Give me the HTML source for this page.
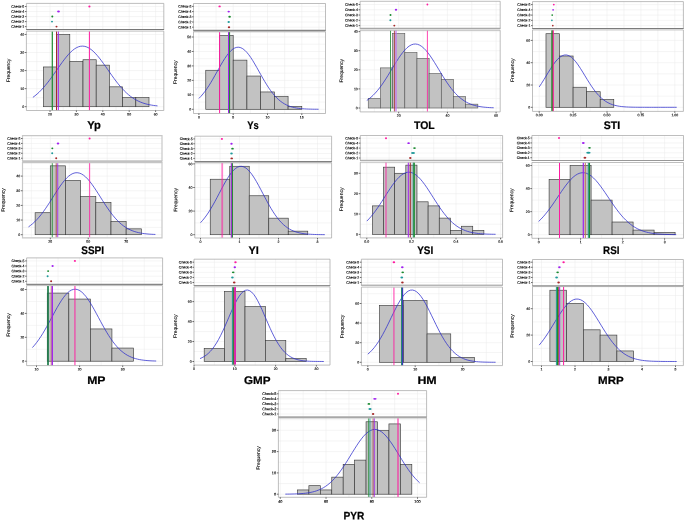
<!DOCTYPE html>
<html><head><meta charset="utf-8"><title>Histograms</title>
<style>html,body{margin:0;padding:0;background:#fff;}body{width:685px;height:521px;overflow:hidden;font-family:"Liberation Sans",sans-serif;}</style>
</head><body>
<svg width="685" height="521" viewBox="0 0 685 521" style="display:block;font-family:'Liberation Sans',sans-serif">
<defs><filter id="gs" x="0" y="0" width="685" height="521" filterUnits="userSpaceOnUse" color-interpolation-filters="sRGB"><feColorMatrix type="saturate" values="0"/></filter></defs>
<rect width="685" height="521" fill="#fff"/>
<g id="Yp">
<path d="M36.80 3.40V29.50M36.80 31.10V110.50M50.00 3.40V29.50M50.00 31.10V110.50M63.20 3.40V29.50M63.20 31.10V110.50M76.40 3.40V29.50M76.40 31.10V110.50M89.60 3.40V29.50M89.60 31.10V110.50M102.80 3.40V29.50M102.80 31.10V110.50M116.00 3.40V29.50M116.00 31.10V110.50M129.20 3.40V29.50M129.20 31.10V110.50M142.40 3.40V29.50M142.40 31.10V110.50M155.60 3.40V29.50M155.60 31.10V110.50M26.40 106.70H163.80M26.40 97.67H163.80M26.40 88.64H163.80M26.40 79.61H163.80M26.40 70.58H163.80M26.40 61.55H163.80M26.40 52.52H163.80M26.40 43.49H163.80M26.40 34.46H163.80M26.40 6.50H163.80M26.40 11.53H163.80M26.40 16.56H163.80M26.40 21.59H163.80M26.40 26.62H163.80" stroke="#ebebeb" stroke-width="0.5" fill="none"/>
<g fill="#c2c2c2" stroke="#3a3a3a" stroke-width="0.65"><rect x="43.40" y="66.97" width="13.20" height="39.73"/><rect x="56.60" y="34.46" width="13.20" height="72.24"/><rect x="69.80" y="61.55" width="13.20" height="45.15"/><rect x="83.00" y="59.74" width="13.20" height="46.96"/><rect x="96.20" y="65.16" width="13.20" height="41.54"/><rect x="109.40" y="86.83" width="13.20" height="19.87"/><rect x="122.60" y="97.67" width="13.20" height="9.03"/><rect x="135.80" y="97.67" width="13.20" height="9.03"/></g>
<polyline points="32.90,97.35 34.98,95.80 37.05,94.08 39.13,92.18 41.21,90.10 43.28,87.84 45.36,85.42 47.44,82.85 49.51,80.15 51.59,77.33 53.67,74.42 55.74,71.46 57.82,68.48 59.90,65.52 61.97,62.62 64.05,59.83 66.13,57.19 68.20,54.74 70.28,52.52 72.36,50.59 74.43,48.96 76.51,47.68 78.59,46.77 80.66,46.24 82.74,46.11 84.82,46.37 86.89,47.03 88.97,48.06 91.05,49.46 93.12,51.19 95.20,53.22 97.28,55.52 99.35,58.03 101.43,60.73 103.51,63.56 105.58,66.48 107.66,69.46 109.74,72.43 111.81,75.38 113.89,78.26 115.97,81.05 118.04,83.71 120.12,86.23 122.20,88.60 124.27,90.80 126.35,92.82 128.43,94.66 130.50,96.33 132.58,97.83 134.66,99.15 136.73,100.33 138.81,101.35 140.89,102.24 142.96,103.01 145.04,103.66 147.12,104.22 149.19,104.69 151.27,105.07 153.35,105.40 155.42,105.66 157.50,105.88" fill="none" stroke="#2c2ccc" stroke-width="0.75"/>
<line x1="52.30" x2="52.30" y1="31.40" y2="110.20" stroke="#1a8a2e" stroke-width="1.2" opacity="1"/>
<line x1="56.50" x2="56.50" y1="31.40" y2="110.20" stroke="#a52a2a" stroke-width="1.0" opacity="1"/>
<line x1="58.30" x2="58.30" y1="31.40" y2="110.20" stroke="#a020f0" stroke-width="1.0" opacity="1"/>
<line x1="89.40" x2="89.40" y1="31.40" y2="110.20" stroke="#ff1aa0" stroke-width="1.0" opacity="1"/>
<path d="M26.40 29.50V3.40H163.80V29.50M26.40 31.10H163.80V110.50H26.40Z" fill="none" stroke="#a2a2a2" stroke-width="0.7"/>
<line x1="26.10" x2="164.10" y1="29.50" y2="29.50" stroke="#787878" stroke-width="1.0"/>
<ellipse cx="89.40" cy="6.50" rx="1.1" ry="0.95" fill="#ff1aa0"/>
<line x1="24.90" x2="26.40" y1="6.50" y2="6.50" stroke="#222" stroke-width="0.65"/>
<ellipse cx="58.50" cy="11.53" rx="1.4" ry="0.95" fill="#a020f0"/>
<line x1="24.90" x2="26.40" y1="11.53" y2="11.53" stroke="#222" stroke-width="0.65"/>
<ellipse cx="52.30" cy="16.56" rx="1" ry="0.95" fill="#1a8a2e"/>
<line x1="24.90" x2="26.40" y1="16.56" y2="16.56" stroke="#222" stroke-width="0.65"/>
<ellipse cx="52.00" cy="21.59" rx="1" ry="0.95" fill="#1f9a9a"/>
<line x1="24.90" x2="26.40" y1="21.59" y2="21.59" stroke="#222" stroke-width="0.65"/>
<ellipse cx="56.50" cy="26.62" rx="1" ry="0.95" fill="#a52a2a"/>
<line x1="24.90" x2="26.40" y1="26.62" y2="26.62" stroke="#222" stroke-width="0.65"/>
<line x1="24.80" x2="26.40" y1="106.70" y2="106.70" stroke="#222" stroke-width="0.65"/>
<line x1="24.80" x2="26.40" y1="88.64" y2="88.64" stroke="#222" stroke-width="0.65"/>
<line x1="24.80" x2="26.40" y1="70.58" y2="70.58" stroke="#222" stroke-width="0.65"/>
<line x1="24.80" x2="26.40" y1="52.52" y2="52.52" stroke="#222" stroke-width="0.65"/>
<line x1="24.80" x2="26.40" y1="34.46" y2="34.46" stroke="#222" stroke-width="0.65"/>
<line x1="50.00" x2="50.00" y1="110.50" y2="112.00" stroke="#222" stroke-width="0.65"/>
<line x1="76.40" x2="76.40" y1="110.50" y2="112.00" stroke="#222" stroke-width="0.65"/>
<line x1="102.80" x2="102.80" y1="110.50" y2="112.00" stroke="#222" stroke-width="0.65"/>
<line x1="129.20" x2="129.20" y1="110.50" y2="112.00" stroke="#222" stroke-width="0.65"/>
<line x1="155.60" x2="155.60" y1="110.50" y2="112.00" stroke="#222" stroke-width="0.65"/>
</g>
<g id="Ys">
<path d="M198.90 3.50V30.50M198.90 31.80V113.50M216.05 3.50V30.50M216.05 31.80V113.50M233.20 3.50V30.50M233.20 31.80V113.50M250.35 3.50V30.50M250.35 31.80V113.50M267.50 3.50V30.50M267.50 31.80V113.50M284.65 3.50V30.50M284.65 31.80V113.50M301.80 3.50V30.50M301.80 31.80V113.50M318.95 3.50V30.50M318.95 31.80V113.50M193.50 109.30H325.50M193.50 102.07H325.50M193.50 94.84H325.50M193.50 87.61H325.50M193.50 80.38H325.50M193.50 73.15H325.50M193.50 65.92H325.50M193.50 58.69H325.50M193.50 51.46H325.50M193.50 44.23H325.50M193.50 37.00H325.50M193.50 6.40H325.50M193.50 11.60H325.50M193.50 16.80H325.50M193.50 22.00H325.50M193.50 27.20H325.50" stroke="#ebebeb" stroke-width="0.5" fill="none"/>
<g fill="#c2c2c2" stroke="#3a3a3a" stroke-width="0.65"><rect x="205.76" y="70.26" width="13.72" height="39.04"/><rect x="219.48" y="35.55" width="13.72" height="73.75"/><rect x="233.20" y="60.14" width="13.72" height="49.16"/><rect x="246.92" y="76.04" width="13.72" height="33.26"/><rect x="260.64" y="91.95" width="13.72" height="17.35"/><rect x="274.36" y="96.29" width="13.72" height="13.01"/><rect x="288.08" y="106.41" width="13.72" height="2.89"/></g>
<polyline points="198.90,98.42 200.90,96.37 202.89,94.07 204.89,91.52 206.88,88.73 208.88,85.72 210.87,82.51 212.87,79.13 214.86,75.64 216.86,72.07 218.85,68.50 220.84,64.99 222.84,61.61 224.84,58.43 226.83,55.53 228.83,52.97 230.82,50.82 232.81,49.14 234.81,47.96 236.81,47.32 238.80,47.23 240.80,47.71 242.79,48.73 244.79,50.27 246.78,52.28 248.78,54.73 250.77,57.53 252.77,60.64 254.76,63.97 256.75,67.45 258.75,71.01 260.75,74.58 262.74,78.10 264.74,81.52 266.73,84.78 268.73,87.86 270.72,90.72 272.72,93.34 274.71,95.71 276.71,97.84 278.70,99.72 280.70,101.36 282.69,102.78 284.69,104.00 286.68,105.02 288.68,105.88 290.67,106.59 292.67,107.18 294.66,107.65 296.66,108.03 298.65,108.33 300.65,108.56 302.64,108.75 304.64,108.89 306.63,109.00 308.62,109.08 310.62,109.14 312.62,109.19 314.61,109.22 316.61,109.24 318.60,109.26" fill="none" stroke="#2c2ccc" stroke-width="0.75"/>
<line x1="219.60" x2="219.60" y1="32.10" y2="113.20" stroke="#ff1aa0" stroke-width="1.0" opacity="1"/>
<line x1="229.00" x2="229.00" y1="32.10" y2="113.20" stroke="#a52a2a" stroke-width="0.8" opacity="1"/>
<line x1="228.50" x2="228.50" y1="32.10" y2="113.20" stroke="#a020f0" stroke-width="1.0" opacity="1"/>
<line x1="229.60" x2="229.60" y1="32.10" y2="113.20" stroke="#1a8a2e" stroke-width="1.0" opacity="1"/>
<path d="M193.50 30.50V3.50H325.50V30.50M193.50 31.80H325.50V113.50H193.50Z" fill="none" stroke="#a2a2a2" stroke-width="0.7"/>
<line x1="193.20" x2="325.80" y1="30.50" y2="30.50" stroke="#868686" stroke-width="1.3"/>
<ellipse cx="219.60" cy="6.40" rx="1.2" ry="0.95" fill="#ff1aa0"/>
<line x1="192.00" x2="193.50" y1="6.40" y2="6.40" stroke="#222" stroke-width="0.65"/>
<ellipse cx="228.70" cy="11.60" rx="1.2" ry="0.95" fill="#a020f0"/>
<line x1="192.00" x2="193.50" y1="11.60" y2="11.60" stroke="#222" stroke-width="0.65"/>
<ellipse cx="229.60" cy="16.80" rx="1.3" ry="0.95" fill="#1a8a2e"/>
<line x1="192.00" x2="193.50" y1="16.80" y2="16.80" stroke="#222" stroke-width="0.65"/>
<ellipse cx="228.70" cy="22.00" rx="1.2" ry="0.95" fill="#1f9a9a"/>
<line x1="192.00" x2="193.50" y1="22.00" y2="22.00" stroke="#222" stroke-width="0.65"/>
<ellipse cx="229.00" cy="27.20" rx="1.2" ry="0.95" fill="#a52a2a"/>
<line x1="192.00" x2="193.50" y1="27.20" y2="27.20" stroke="#222" stroke-width="0.65"/>
<line x1="191.90" x2="193.50" y1="109.30" y2="109.30" stroke="#222" stroke-width="0.65"/>
<line x1="191.90" x2="193.50" y1="94.84" y2="94.84" stroke="#222" stroke-width="0.65"/>
<line x1="191.90" x2="193.50" y1="80.38" y2="80.38" stroke="#222" stroke-width="0.65"/>
<line x1="191.90" x2="193.50" y1="65.92" y2="65.92" stroke="#222" stroke-width="0.65"/>
<line x1="191.90" x2="193.50" y1="51.46" y2="51.46" stroke="#222" stroke-width="0.65"/>
<line x1="191.90" x2="193.50" y1="37.00" y2="37.00" stroke="#222" stroke-width="0.65"/>
<line x1="198.90" x2="198.90" y1="113.50" y2="115.00" stroke="#222" stroke-width="0.65"/>
<line x1="233.20" x2="233.20" y1="113.50" y2="115.00" stroke="#222" stroke-width="0.65"/>
<line x1="267.50" x2="267.50" y1="113.50" y2="115.00" stroke="#222" stroke-width="0.65"/>
<line x1="301.80" x2="301.80" y1="113.50" y2="115.00" stroke="#222" stroke-width="0.65"/>
</g>
<g id="TOL">
<path d="M374.35 1.30V28.60M374.35 30.30V111.90M398.70 1.30V28.60M398.70 30.30V111.90M423.05 1.30V28.60M423.05 30.30V111.90M447.40 1.30V28.60M447.40 30.30V111.90M471.75 1.30V28.60M471.75 30.30V111.90M496.10 1.30V28.60M496.10 30.30V111.90M360.10 108.00H500.20M360.10 98.45H500.20M360.10 88.90H500.20M360.10 79.35H500.20M360.10 69.80H500.20M360.10 60.25H500.20M360.10 50.70H500.20M360.10 41.15H500.20M360.10 31.60H500.20M360.10 4.50H500.20M360.10 9.77H500.20M360.10 15.04H500.20M360.10 20.31H500.20M360.10 25.58H500.20" stroke="#ebebeb" stroke-width="0.5" fill="none"/>
<g fill="#c2c2c2" stroke="#5c5c5c" stroke-width="0.65"><rect x="368.26" y="98.45" width="12.18" height="9.55"/><rect x="380.44" y="67.89" width="12.18" height="40.11"/><rect x="392.61" y="33.51" width="12.17" height="74.49"/><rect x="404.79" y="52.61" width="12.18" height="55.39"/><rect x="416.96" y="58.34" width="12.18" height="49.66"/><rect x="429.14" y="73.62" width="12.18" height="34.38"/><rect x="441.31" y="79.35" width="12.18" height="28.65"/><rect x="453.49" y="96.54" width="12.18" height="11.46"/><rect x="465.66" y="104.18" width="12.17" height="3.82"/></g>
<polyline points="366.80,100.46 368.92,98.95 371.03,97.22 373.14,95.27 375.26,93.09 377.38,90.67 379.49,88.03 381.61,85.17 383.72,82.11 385.84,78.88 387.95,75.51 390.06,72.06 392.18,68.55 394.30,65.06 396.41,61.64 398.52,58.35 400.64,55.26 402.75,52.44 404.87,49.94 406.99,47.82 409.10,46.14 411.22,44.92 413.33,44.20 415.44,44.00 417.56,44.32 419.68,45.16 421.79,46.49 423.90,48.28 426.02,50.49 428.13,53.07 430.25,55.96 432.37,59.10 434.48,62.42 436.60,65.86 438.71,69.36 440.82,72.86 442.94,76.30 445.06,79.64 447.17,82.83 449.28,85.85 451.40,88.66 453.51,91.25 455.63,93.61 457.75,95.74 459.86,97.64 461.98,99.32 464.09,100.78 466.20,102.05 468.32,103.13 470.44,104.05 472.55,104.82 474.66,105.47 476.78,105.99 478.89,106.43 481.01,106.77 483.12,107.05 485.24,107.27 487.36,107.45 489.47,107.58 491.58,107.69 493.70,107.77" fill="none" stroke="#2c2ccc" stroke-width="0.75"/>
<line x1="390.50" x2="390.50" y1="30.60" y2="111.60" stroke="#1a8a2e" stroke-width="1.0" opacity="0.8"/>
<line x1="394.40" x2="394.40" y1="30.60" y2="111.60" stroke="#a52a2a" stroke-width="1.0" opacity="0.8"/>
<line x1="396.00" x2="396.00" y1="30.60" y2="111.60" stroke="#c070f0" stroke-width="1.5" opacity="0.8"/>
<line x1="427.40" x2="427.40" y1="30.60" y2="111.60" stroke="#ff1aa0" stroke-width="1.0" opacity="0.8"/>
<path d="M360.10 28.60V1.30H500.20V28.60M360.10 30.30H500.20V111.90H360.10Z" fill="none" stroke="#a2a2a2" stroke-width="0.7"/>
<line x1="359.80" x2="500.50" y1="28.60" y2="28.60" stroke="#a8a8a8" stroke-width="1.5"/>
<ellipse cx="427.40" cy="4.50" rx="0.9" ry="0.9" fill="#ff1aa0"/>
<line x1="358.60" x2="360.10" y1="4.50" y2="4.50" stroke="#222" stroke-width="0.65"/>
<ellipse cx="396.00" cy="9.77" rx="1.2" ry="0.95" fill="#a020f0"/>
<line x1="358.60" x2="360.10" y1="9.77" y2="9.77" stroke="#222" stroke-width="0.65"/>
<ellipse cx="390.50" cy="15.04" rx="1" ry="0.95" fill="#1a8a2e"/>
<line x1="358.60" x2="360.10" y1="15.04" y2="15.04" stroke="#222" stroke-width="0.65"/>
<ellipse cx="390.40" cy="20.31" rx="1" ry="0.95" fill="#1f9a9a"/>
<line x1="358.60" x2="360.10" y1="20.31" y2="20.31" stroke="#222" stroke-width="0.65"/>
<ellipse cx="394.30" cy="25.58" rx="1" ry="0.95" fill="#a52a2a"/>
<line x1="358.60" x2="360.10" y1="25.58" y2="25.58" stroke="#222" stroke-width="0.65"/>
<line x1="358.50" x2="360.10" y1="108.00" y2="108.00" stroke="#222" stroke-width="0.65"/>
<line x1="358.50" x2="360.10" y1="88.90" y2="88.90" stroke="#222" stroke-width="0.65"/>
<line x1="358.50" x2="360.10" y1="69.80" y2="69.80" stroke="#222" stroke-width="0.65"/>
<line x1="358.50" x2="360.10" y1="50.70" y2="50.70" stroke="#222" stroke-width="0.65"/>
<line x1="358.50" x2="360.10" y1="31.60" y2="31.60" stroke="#222" stroke-width="0.65"/>
<line x1="398.70" x2="398.70" y1="111.90" y2="113.40" stroke="#222" stroke-width="0.65"/>
<line x1="447.40" x2="447.40" y1="111.90" y2="113.40" stroke="#222" stroke-width="0.65"/>
<line x1="496.10" x2="496.10" y1="111.90" y2="113.40" stroke="#222" stroke-width="0.65"/>
</g>
<g id="STI">
<path d="M539.20 1.60V28.50M539.20 29.90V111.40M556.15 1.60V28.50M556.15 29.90V111.40M573.10 1.60V28.50M573.10 29.90V111.40M590.05 1.60V28.50M590.05 29.90V111.40M607.00 1.60V28.50M607.00 29.90V111.40M623.95 1.60V28.50M623.95 29.90V111.40M640.90 1.60V28.50M640.90 29.90V111.40M657.85 1.60V28.50M657.85 29.90V111.40M674.80 1.60V28.50M674.80 29.90V111.40M532.50 107.30H683.40M532.50 96.15H683.40M532.50 85.00H683.40M532.50 73.85H683.40M532.50 62.70H683.40M532.50 51.55H683.40M532.50 40.40H683.40M532.50 4.60H683.40M532.50 9.85H683.40M532.50 15.10H683.40M532.50 20.35H683.40M532.50 25.60H683.40" stroke="#ebebeb" stroke-width="0.5" fill="none"/>
<g fill="#c2c2c2" stroke="#3a3a3a" stroke-width="0.65"><rect x="545.98" y="33.71" width="13.56" height="73.59"/><rect x="559.54" y="56.01" width="13.56" height="51.29"/><rect x="573.10" y="87.23" width="13.56" height="20.07"/><rect x="586.66" y="91.69" width="13.56" height="15.61"/><rect x="600.22" y="99.50" width="13.56" height="7.80"/></g>
<polyline points="539.20,86.94 541.49,83.48 543.78,79.82 546.08,76.06 548.37,72.27 550.66,68.59 552.95,65.12 555.24,62.00 557.53,59.33 559.83,57.22 562.12,55.76 564.41,55.00 566.70,54.99 568.99,55.71 571.28,57.15 573.58,59.23 575.87,61.88 578.16,64.99 580.45,68.45 582.74,72.12 585.03,75.90 587.33,79.67 589.62,83.34 591.91,86.81 594.20,90.02 596.49,92.94 598.78,95.53 601.08,97.79 603.37,99.73 605.66,101.36 607.95,102.70 610.24,103.79 612.53,104.66 614.83,105.34 617.12,105.87 619.41,106.27 621.70,106.57 623.99,106.79 626.28,106.95 628.58,107.06 630.87,107.14 633.16,107.19 635.45,107.23 637.74,107.25 640.03,107.27 642.33,107.28 644.62,107.29 646.91,107.29 649.20,107.30 651.49,107.30 653.78,107.30 656.08,107.30 658.37,107.30 660.66,107.30 662.95,107.30 665.24,107.30 667.53,107.30 669.83,107.30 672.12,107.30 674.41,107.30 676.70,107.30" fill="none" stroke="#2c2ccc" stroke-width="0.75"/>
<line x1="552.70" x2="552.70" y1="30.20" y2="111.10" stroke="#a52a2a" stroke-width="0.9" opacity="1"/>
<line x1="551.95" x2="551.95" y1="30.20" y2="111.10" stroke="#1a8a2e" stroke-width="1.3" opacity="1"/>
<line x1="553.35" x2="553.35" y1="30.20" y2="111.10" stroke="#ff1aa0" stroke-width="0.95" opacity="1"/>
<path d="M532.50 28.50V1.60H683.40V28.50M532.50 29.90H683.40V111.40H532.50Z" fill="none" stroke="#a2a2a2" stroke-width="0.7"/>
<line x1="532.20" x2="683.70" y1="28.50" y2="28.50" stroke="#7c7c7c" stroke-width="1.0"/>
<ellipse cx="553.80" cy="4.60" rx="0.9" ry="0.9" fill="#ff1aa0"/>
<line x1="531.00" x2="532.50" y1="4.60" y2="4.60" stroke="#222" stroke-width="0.65"/>
<ellipse cx="553.10" cy="9.85" rx="0.85" ry="0.85" fill="#a020f0"/>
<line x1="531.00" x2="532.50" y1="9.85" y2="9.85" stroke="#222" stroke-width="0.65"/>
<ellipse cx="552.20" cy="15.10" rx="0.85" ry="0.85" fill="#1a8a2e"/>
<line x1="531.00" x2="532.50" y1="15.10" y2="15.10" stroke="#222" stroke-width="0.65"/>
<ellipse cx="551.90" cy="20.35" rx="0.85" ry="0.85" fill="#1f9a9a"/>
<line x1="531.00" x2="532.50" y1="20.35" y2="20.35" stroke="#222" stroke-width="0.65"/>
<ellipse cx="552.80" cy="25.60" rx="0.85" ry="0.85" fill="#a52a2a"/>
<line x1="531.00" x2="532.50" y1="25.60" y2="25.60" stroke="#222" stroke-width="0.65"/>
<line x1="530.90" x2="532.50" y1="107.30" y2="107.30" stroke="#222" stroke-width="0.65"/>
<line x1="530.90" x2="532.50" y1="85.00" y2="85.00" stroke="#222" stroke-width="0.65"/>
<line x1="530.90" x2="532.50" y1="62.70" y2="62.70" stroke="#222" stroke-width="0.65"/>
<line x1="530.90" x2="532.50" y1="40.40" y2="40.40" stroke="#222" stroke-width="0.65"/>
<line x1="539.20" x2="539.20" y1="111.40" y2="112.90" stroke="#222" stroke-width="0.65"/>
<line x1="573.10" x2="573.10" y1="111.40" y2="112.90" stroke="#222" stroke-width="0.65"/>
<line x1="607.00" x2="607.00" y1="111.40" y2="112.90" stroke="#222" stroke-width="0.65"/>
<line x1="640.90" x2="640.90" y1="111.40" y2="112.90" stroke="#222" stroke-width="0.65"/>
<line x1="674.80" x2="674.80" y1="111.40" y2="112.90" stroke="#222" stroke-width="0.65"/>
</g>
<g id="SSPI">
<path d="M31.34 135.60V161.30M31.34 162.60V237.80M50.30 135.60V161.30M50.30 162.60V237.80M69.26 135.60V161.30M69.26 162.60V237.80M88.22 135.60V161.30M88.22 162.60V237.80M107.19 135.60V161.30M107.19 162.60V237.80M126.15 135.60V161.30M126.15 162.60V237.80M145.11 135.60V161.30M145.11 162.60V237.80M22.50 234.70H162.00M22.50 227.38H162.00M22.50 220.05H162.00M22.50 212.73H162.00M22.50 205.40H162.00M22.50 198.08H162.00M22.50 190.75H162.00M22.50 183.43H162.00M22.50 176.10H162.00M22.50 168.78H162.00M22.50 138.50H162.00M22.50 143.43H162.00M22.50 148.36H162.00M22.50 153.29H162.00M22.50 158.22H162.00" stroke="#ebebeb" stroke-width="0.5" fill="none"/>
<g fill="#c2c2c2" stroke="#3a3a3a" stroke-width="0.65"><rect x="35.13" y="212.72" width="15.17" height="21.97"/><rect x="50.30" y="165.84" width="15.17" height="68.86"/><rect x="65.47" y="180.49" width="15.17" height="54.21"/><rect x="80.64" y="196.61" width="15.17" height="38.09"/><rect x="95.81" y="202.47" width="15.17" height="32.23"/><rect x="110.98" y="221.51" width="15.17" height="13.19"/><rect x="126.15" y="228.84" width="15.17" height="5.86"/></g>
<polyline points="28.50,226.86 30.62,225.34 32.73,223.61 34.84,221.66 36.96,219.50 39.08,217.12 41.19,214.52 43.30,211.73 45.42,208.75 47.54,205.62 49.65,202.38 51.77,199.05 53.88,195.70 56.00,192.37 58.11,189.12 60.23,186.01 62.34,183.10 64.46,180.45 66.57,178.11 68.69,176.15 70.80,174.59 72.91,173.49 75.03,172.85 77.15,172.71 79.26,173.06 81.38,173.89 83.49,175.19 85.61,176.93 87.72,179.05 89.84,181.53 91.95,184.29 94.06,187.30 96.18,190.47 98.30,193.76 100.41,197.11 102.53,200.46 104.64,203.75 106.76,206.96 108.87,210.02 110.98,212.92 113.10,215.64 115.22,218.15 117.33,220.44 119.44,222.51 121.56,224.36 123.67,226.00 125.79,227.44 127.91,228.69 130.02,229.76 132.13,230.68 134.25,231.45 136.37,232.09 138.48,232.63 140.60,233.06 142.71,233.42 144.82,233.70 146.94,233.93 149.06,234.11 151.17,234.25 153.29,234.37 155.40,234.45" fill="none" stroke="#2c2ccc" stroke-width="0.75"/>
<line x1="52.30" x2="52.30" y1="162.90" y2="237.50" stroke="#1a8a2e" stroke-width="1.1" opacity="0.75"/>
<line x1="56.20" x2="56.20" y1="162.90" y2="237.50" stroke="#a52a2a" stroke-width="1.0" opacity="0.75"/>
<line x1="57.70" x2="57.70" y1="162.90" y2="237.50" stroke="#a020f0" stroke-width="1.1" opacity="0.75"/>
<line x1="89.60" x2="89.60" y1="162.90" y2="237.50" stroke="#ff1aa0" stroke-width="1.1" opacity="0.75"/>
<path d="M22.50 161.30V135.60H162.00V161.30M22.50 162.60H162.00V237.80H22.50Z" fill="none" stroke="#c8c8c8" stroke-width="1.2"/>
<line x1="22.20" x2="162.30" y1="161.30" y2="161.30" stroke="#c2c2c2" stroke-width="2.2"/>
<ellipse cx="89.60" cy="138.50" rx="1" ry="0.95" fill="#ff1aa0"/>
<line x1="21.00" x2="22.50" y1="138.50" y2="138.50" stroke="#222" stroke-width="0.65"/>
<ellipse cx="58.00" cy="143.43" rx="1.3" ry="0.95" fill="#a020f0"/>
<line x1="21.00" x2="22.50" y1="143.43" y2="143.43" stroke="#222" stroke-width="0.65"/>
<ellipse cx="52.30" cy="148.36" rx="1" ry="0.95" fill="#1a8a2e"/>
<line x1="21.00" x2="22.50" y1="148.36" y2="148.36" stroke="#222" stroke-width="0.65"/>
<ellipse cx="52.20" cy="153.29" rx="1" ry="0.95" fill="#1f9a9a"/>
<line x1="21.00" x2="22.50" y1="153.29" y2="153.29" stroke="#222" stroke-width="0.65"/>
<ellipse cx="56.20" cy="158.22" rx="1" ry="0.95" fill="#a52a2a"/>
<line x1="21.00" x2="22.50" y1="158.22" y2="158.22" stroke="#222" stroke-width="0.65"/>
<line x1="20.90" x2="22.50" y1="234.70" y2="234.70" stroke="#222" stroke-width="0.65"/>
<line x1="20.90" x2="22.50" y1="220.05" y2="220.05" stroke="#222" stroke-width="0.65"/>
<line x1="20.90" x2="22.50" y1="205.40" y2="205.40" stroke="#222" stroke-width="0.65"/>
<line x1="20.90" x2="22.50" y1="190.75" y2="190.75" stroke="#222" stroke-width="0.65"/>
<line x1="20.90" x2="22.50" y1="176.10" y2="176.10" stroke="#222" stroke-width="0.65"/>
<line x1="50.30" x2="50.30" y1="237.80" y2="239.30" stroke="#222" stroke-width="0.65"/>
<line x1="88.22" x2="88.22" y1="237.80" y2="239.30" stroke="#222" stroke-width="0.65"/>
<line x1="126.15" x2="126.15" y1="237.80" y2="239.30" stroke="#222" stroke-width="0.65"/>
</g>
<g id="YI">
<path d="M200.50 136.20V161.60M200.50 162.80V238.00M220.00 136.20V161.60M220.00 162.80V238.00M239.50 136.20V161.60M239.50 162.80V238.00M259.00 136.20V161.60M259.00 162.80V238.00M278.50 136.20V161.60M278.50 162.80V238.00M298.00 136.20V161.60M298.00 162.80V238.00M317.50 136.20V161.60M317.50 162.80V238.00M194.80 234.70H331.60M194.80 222.90H331.60M194.80 211.10H331.60M194.80 199.30H331.60M194.80 187.50H331.60M194.80 175.70H331.60M194.80 163.90H331.60M194.80 138.90H331.60M194.80 143.78H331.60M194.80 148.66H331.60M194.80 153.54H331.60M194.80 158.42H331.60" stroke="#ebebeb" stroke-width="0.5" fill="none"/>
<g fill="#c2c2c2" stroke="#3a3a3a" stroke-width="0.65"><rect x="210.25" y="179.24" width="19.50" height="55.46"/><rect x="229.75" y="166.26" width="19.50" height="68.44"/><rect x="249.25" y="195.76" width="19.50" height="38.94"/><rect x="268.75" y="218.18" width="19.50" height="16.52"/><rect x="288.25" y="231.16" width="19.50" height="3.54"/></g>
<polyline points="200.50,222.71 202.57,220.44 204.64,217.89 206.72,215.07 208.79,211.97 210.86,208.63 212.93,205.07 215.00,201.33 217.07,197.46 219.15,193.51 221.22,189.56 223.29,185.68 225.36,181.95 227.43,178.45 229.50,175.26 231.57,172.46 233.65,170.12 235.72,168.30 237.79,167.04 239.86,166.39 241.93,166.36 244.00,166.95 246.08,168.15 248.15,169.91 250.22,172.20 252.29,174.96 254.36,178.11 256.44,181.59 258.51,185.30 260.58,189.17 262.65,193.12 264.72,197.07 266.79,200.95 268.87,204.71 270.94,208.29 273.01,211.65 275.08,214.77 277.15,217.62 279.22,220.20 281.30,222.50 283.37,224.53 285.44,226.30 287.51,227.82 289.58,229.12 291.65,230.21 293.73,231.13 295.80,231.88 297.87,232.49 299.94,232.99 302.01,233.39 304.08,233.70 306.15,233.95 308.23,234.14 310.30,234.28 312.37,234.39 314.44,234.48 316.51,234.54 318.59,234.59 320.66,234.62 322.73,234.64 324.80,234.66" fill="none" stroke="#2c2ccc" stroke-width="0.75"/>
<line x1="222.20" x2="222.20" y1="163.10" y2="237.70" stroke="rgba(255,26,160,0.55)" stroke-width="1.8" opacity="1"/>
<line x1="231.90" x2="231.90" y1="163.10" y2="237.70" stroke="#a52a2a" stroke-width="0.8" opacity="1"/>
<line x1="231.30" x2="231.30" y1="163.10" y2="237.70" stroke="#a020f0" stroke-width="1.0" opacity="1"/>
<line x1="232.40" x2="232.40" y1="163.10" y2="237.70" stroke="#1a8a2e" stroke-width="1.0" opacity="1"/>
<path d="M194.80 161.60V136.20H331.60V161.60M194.80 162.80H331.60V238.00H194.80Z" fill="none" stroke="#a2a2a2" stroke-width="0.7"/>
<line x1="194.50" x2="331.90" y1="161.60" y2="161.60" stroke="#808080" stroke-width="1.4"/>
<ellipse cx="221.90" cy="138.90" rx="1.1" ry="0.95" fill="#ff1aa0"/>
<line x1="193.30" x2="194.80" y1="138.90" y2="138.90" stroke="#222" stroke-width="0.65"/>
<ellipse cx="231.50" cy="143.78" rx="1.2" ry="0.95" fill="#a020f0"/>
<line x1="193.30" x2="194.80" y1="143.78" y2="143.78" stroke="#222" stroke-width="0.65"/>
<ellipse cx="232.50" cy="148.66" rx="1.3" ry="0.95" fill="#1a8a2e"/>
<line x1="193.30" x2="194.80" y1="148.66" y2="148.66" stroke="#222" stroke-width="0.65"/>
<ellipse cx="231.50" cy="153.54" rx="1.3" ry="0.95" fill="#1f9a9a"/>
<line x1="193.30" x2="194.80" y1="153.54" y2="153.54" stroke="#222" stroke-width="0.65"/>
<ellipse cx="231.70" cy="158.42" rx="1.3" ry="0.95" fill="#a52a2a"/>
<line x1="193.30" x2="194.80" y1="158.42" y2="158.42" stroke="#222" stroke-width="0.65"/>
<line x1="193.20" x2="194.80" y1="234.70" y2="234.70" stroke="#222" stroke-width="0.65"/>
<line x1="193.20" x2="194.80" y1="211.10" y2="211.10" stroke="#222" stroke-width="0.65"/>
<line x1="193.20" x2="194.80" y1="187.50" y2="187.50" stroke="#222" stroke-width="0.65"/>
<line x1="193.20" x2="194.80" y1="163.90" y2="163.90" stroke="#222" stroke-width="0.65"/>
<line x1="200.50" x2="200.50" y1="238.00" y2="239.50" stroke="#222" stroke-width="0.65"/>
<line x1="239.50" x2="239.50" y1="238.00" y2="239.50" stroke="#222" stroke-width="0.65"/>
<line x1="278.50" x2="278.50" y1="238.00" y2="239.50" stroke="#222" stroke-width="0.65"/>
<line x1="317.50" x2="317.50" y1="238.00" y2="239.50" stroke="#222" stroke-width="0.65"/>
</g>
<g id="YSI">
<path d="M366.80 135.50V160.30M366.80 162.20V237.90M389.10 135.50V160.30M389.10 162.20V237.90M411.40 135.50V160.30M411.40 162.20V237.90M433.70 135.50V160.30M433.70 162.20V237.90M456.00 135.50V160.30M456.00 162.20V237.90M478.30 135.50V160.30M478.30 162.20V237.90M500.60 135.50V160.30M500.60 162.20V237.90M360.30 234.40H502.60M360.30 224.22H502.60M360.30 214.03H502.60M360.30 203.84H502.60M360.30 193.66H502.60M360.30 183.47H502.60M360.30 173.29H502.60M360.30 163.10H502.60M360.30 138.20H502.60M360.30 143.15H502.60M360.30 148.10H502.60M360.30 153.05H502.60M360.30 158.00H502.60" stroke="#ebebeb" stroke-width="0.5" fill="none"/>
<g fill="#c2c2c2" stroke="#3a3a3a" stroke-width="0.65"><rect x="372.38" y="205.88" width="11.15" height="28.52"/><rect x="383.53" y="167.18" width="11.15" height="67.22"/><rect x="394.68" y="173.29" width="11.15" height="61.11"/><rect x="405.83" y="165.14" width="11.15" height="69.26"/><rect x="416.98" y="201.81" width="11.15" height="32.59"/><rect x="428.12" y="205.88" width="11.15" height="28.52"/><rect x="439.28" y="218.10" width="11.15" height="16.30"/><rect x="450.43" y="230.33" width="11.15" height="4.07"/><rect x="461.58" y="226.25" width="11.15" height="8.15"/><rect x="472.73" y="230.33" width="11.15" height="4.07"/></g>
<polyline points="366.80,221.12 368.95,218.91 371.09,216.48 373.24,213.84 375.39,210.99 377.53,207.97 379.68,204.79 381.83,201.50 383.97,198.14 386.12,194.75 388.27,191.40 390.41,188.13 392.56,185.02 394.71,182.13 396.85,179.50 399.00,177.22 401.15,175.31 403.29,173.83 405.44,172.81 407.59,172.28 409.73,172.25 411.88,172.71 414.03,173.67 416.17,175.09 418.32,176.94 420.47,179.19 422.61,181.77 424.76,184.63 426.91,187.72 429.05,190.96 431.20,194.31 433.35,197.69 435.49,201.06 437.64,204.37 439.79,207.56 441.93,210.61 444.08,213.48 446.23,216.15 448.37,218.61 450.52,220.84 452.67,222.86 454.81,224.65 456.96,226.23 459.11,227.61 461.25,228.80 463.40,229.82 465.55,230.69 467.69,231.41 469.84,232.02 471.99,232.51 474.13,232.92 476.28,233.24 478.43,233.51 480.57,233.72 482.72,233.88 484.87,234.01 487.01,234.11 489.16,234.18 491.31,234.24 493.45,234.28 495.60,234.31" fill="none" stroke="#2c2ccc" stroke-width="0.75"/>
<line x1="386.00" x2="386.00" y1="162.50" y2="237.60" stroke="rgba(255,26,160,0.55)" stroke-width="1.5" opacity="1"/>
<line x1="408.30" x2="408.30" y1="162.50" y2="237.60" stroke="#a020f0" stroke-width="1.0" opacity="1"/>
<line x1="410.30" x2="410.30" y1="162.50" y2="237.60" stroke="#a52a2a" stroke-width="1.0" opacity="1"/>
<line x1="413.20" x2="413.20" y1="162.50" y2="237.60" stroke="#1f9a9a" stroke-width="0.8" opacity="1"/>
<line x1="414.10" x2="414.10" y1="162.50" y2="237.60" stroke="#1a8a2e" stroke-width="1.5" opacity="1"/>
<path d="M360.30 160.30V135.50H502.60V160.30M360.30 162.20H502.60V237.90H360.30Z" fill="none" stroke="#a2a2a2" stroke-width="0.7"/>
<line x1="360.00" x2="502.90" y1="160.30" y2="160.30" stroke="#9c9c9c" stroke-width="1.0"/>
<ellipse cx="386.00" cy="138.20" rx="1.0" ry="0.95" fill="#ff1aa0"/>
<line x1="358.80" x2="360.30" y1="138.20" y2="138.20" stroke="#222" stroke-width="0.65"/>
<ellipse cx="408.60" cy="143.15" rx="1.3" ry="0.95" fill="#a020f0"/>
<line x1="358.80" x2="360.30" y1="143.15" y2="143.15" stroke="#222" stroke-width="0.65"/>
<ellipse cx="414.50" cy="148.10" rx="1.3" ry="0.95" fill="#1a8a2e"/>
<line x1="358.80" x2="360.30" y1="148.10" y2="148.10" stroke="#222" stroke-width="0.65"/>
<ellipse cx="413.00" cy="153.05" rx="2.0" ry="0.95" fill="#1f9a9a"/>
<line x1="358.80" x2="360.30" y1="153.05" y2="153.05" stroke="#222" stroke-width="0.65"/>
<ellipse cx="410.30" cy="158.00" rx="1.2" ry="0.95" fill="#a52a2a"/>
<line x1="358.80" x2="360.30" y1="158.00" y2="158.00" stroke="#222" stroke-width="0.65"/>
<line x1="358.70" x2="360.30" y1="234.40" y2="234.40" stroke="#222" stroke-width="0.65"/>
<line x1="358.70" x2="360.30" y1="214.03" y2="214.03" stroke="#222" stroke-width="0.65"/>
<line x1="358.70" x2="360.30" y1="193.66" y2="193.66" stroke="#222" stroke-width="0.65"/>
<line x1="358.70" x2="360.30" y1="173.29" y2="173.29" stroke="#222" stroke-width="0.65"/>
<line x1="366.80" x2="366.80" y1="237.90" y2="239.40" stroke="#222" stroke-width="0.65"/>
<line x1="411.40" x2="411.40" y1="237.90" y2="239.40" stroke="#222" stroke-width="0.65"/>
<line x1="456.00" x2="456.00" y1="237.90" y2="239.40" stroke="#222" stroke-width="0.65"/>
<line x1="500.60" x2="500.60" y1="237.90" y2="239.40" stroke="#222" stroke-width="0.65"/>
</g>
<g id="RSI">
<path d="M538.60 135.50V160.50M538.60 162.50V238.30M559.60 135.50V160.50M559.60 162.50V238.30M580.60 135.50V160.50M580.60 162.50V238.30M601.60 135.50V160.50M601.60 162.50V238.30M622.60 135.50V160.50M622.60 162.50V238.30M643.60 135.50V160.50M643.60 162.50V238.30M664.60 135.50V160.50M664.60 162.50V238.30M531.90 234.70H683.50M531.90 223.17H683.50M531.90 211.64H683.50M531.90 200.11H683.50M531.90 188.58H683.50M531.90 177.05H683.50M531.90 165.52H683.50M531.90 138.00H683.50M531.90 142.93H683.50M531.90 147.86H683.50M531.90 152.79H683.50M531.90 157.72H683.50" stroke="#ebebeb" stroke-width="0.5" fill="none"/>
<g fill="#c2c2c2" stroke="#3a3a3a" stroke-width="0.65"><rect x="549.10" y="179.36" width="21.00" height="55.34"/><rect x="570.10" y="165.52" width="21.00" height="69.18"/><rect x="591.10" y="200.11" width="21.00" height="34.59"/><rect x="612.10" y="222.02" width="21.00" height="12.68"/><rect x="633.10" y="230.09" width="21.00" height="4.61"/><rect x="654.10" y="232.39" width="21.00" height="2.31"/></g>
<polyline points="538.60,221.48 540.89,219.25 543.19,216.79 545.48,214.11 547.77,211.23 550.07,208.17 552.36,204.95 554.65,201.62 556.95,198.22 559.24,194.80 561.53,191.42 563.83,188.14 566.12,185.03 568.41,182.14 570.71,179.55 573.00,177.30 575.29,175.46 577.59,174.06 579.88,173.14 582.17,172.73 584.47,172.82 586.76,173.42 589.05,174.52 591.35,176.09 593.64,178.08 595.93,180.46 598.23,183.17 600.52,186.15 602.81,189.33 605.11,192.65 607.40,196.05 609.69,199.47 611.99,202.85 614.28,206.15 616.57,209.31 618.87,212.31 621.16,215.12 623.45,217.72 625.75,220.09 628.04,222.24 630.33,224.15 632.63,225.85 634.92,227.34 637.21,228.62 639.51,229.73 641.80,230.66 644.09,231.45 646.39,232.10 648.68,232.65 650.97,233.09 653.27,233.44 655.56,233.73 657.85,233.96 660.15,234.14 662.44,234.27 664.73,234.38 667.03,234.46 669.32,234.53 671.61,234.57 673.91,234.61 676.20,234.63" fill="none" stroke="#2c2ccc" stroke-width="0.75"/>
<line x1="559.50" x2="559.50" y1="162.80" y2="238.00" stroke="#ff1aa0" stroke-width="1.0" opacity="1"/>
<line x1="583.30" x2="583.30" y1="162.80" y2="238.00" stroke="#a020f0" stroke-width="1.2" opacity="1"/>
<line x1="585.30" x2="585.30" y1="162.80" y2="238.00" stroke="#c07058" stroke-width="1.0" opacity="1"/>
<line x1="588.30" x2="588.30" y1="162.80" y2="238.00" stroke="#1f9a9a" stroke-width="1.0" opacity="1"/>
<line x1="589.40" x2="589.40" y1="162.80" y2="238.00" stroke="#1a8a2e" stroke-width="1.3" opacity="1"/>
<path d="M531.90 160.50V135.50H683.50V160.50M531.90 162.50H683.50V238.30H531.90Z" fill="none" stroke="#a2a2a2" stroke-width="0.7"/>
<line x1="531.60" x2="683.80" y1="160.50" y2="160.50" stroke="#8c8c8c" stroke-width="0.9"/>
<ellipse cx="559.00" cy="138.00" rx="1.0" ry="0.95" fill="#ff1aa0"/>
<line x1="530.40" x2="531.90" y1="138.00" y2="138.00" stroke="#222" stroke-width="0.65"/>
<ellipse cx="583.30" cy="142.93" rx="1.4" ry="0.95" fill="#a020f0"/>
<line x1="530.40" x2="531.90" y1="142.93" y2="142.93" stroke="#222" stroke-width="0.65"/>
<ellipse cx="589.50" cy="147.86" rx="1.3" ry="0.95" fill="#1a8a2e"/>
<line x1="530.40" x2="531.90" y1="147.86" y2="147.86" stroke="#222" stroke-width="0.65"/>
<ellipse cx="588.40" cy="152.79" rx="2.2" ry="0.95" fill="#1f9a9a"/>
<line x1="530.40" x2="531.90" y1="152.79" y2="152.79" stroke="#222" stroke-width="0.65"/>
<ellipse cx="584.90" cy="157.72" rx="1.4" ry="0.95" fill="#a52a2a"/>
<line x1="530.40" x2="531.90" y1="157.72" y2="157.72" stroke="#222" stroke-width="0.65"/>
<line x1="530.30" x2="531.90" y1="234.70" y2="234.70" stroke="#222" stroke-width="0.65"/>
<line x1="530.30" x2="531.90" y1="211.64" y2="211.64" stroke="#222" stroke-width="0.65"/>
<line x1="530.30" x2="531.90" y1="188.58" y2="188.58" stroke="#222" stroke-width="0.65"/>
<line x1="530.30" x2="531.90" y1="165.52" y2="165.52" stroke="#222" stroke-width="0.65"/>
<line x1="538.60" x2="538.60" y1="238.30" y2="239.80" stroke="#222" stroke-width="0.65"/>
<line x1="580.60" x2="580.60" y1="238.30" y2="239.80" stroke="#222" stroke-width="0.65"/>
<line x1="622.60" x2="622.60" y1="238.30" y2="239.80" stroke="#222" stroke-width="0.65"/>
<line x1="664.60" x2="664.60" y1="238.30" y2="239.80" stroke="#222" stroke-width="0.65"/>
</g>
<g id="MP">
<path d="M36.50 257.90V284.30M36.50 285.60V365.60M58.05 257.90V284.30M58.05 285.60V365.60M79.60 257.90V284.30M79.60 285.60V365.60M101.15 257.90V284.30M101.15 285.60V365.60M122.70 257.90V284.30M122.70 285.60V365.60M144.25 257.90V284.30M144.25 285.60V365.60M26.60 361.20H162.60M26.60 349.25H162.60M26.60 337.30H162.60M26.60 325.35H162.60M26.60 313.40H162.60M26.60 301.45H162.60M26.60 289.50H162.60M26.60 260.90H162.60M26.60 266.00H162.60M26.60 271.10H162.60M26.60 276.20H162.60M26.60 281.30H162.60" stroke="#ebebeb" stroke-width="0.5" fill="none"/>
<g fill="#c2c2c2" stroke="#3a3a3a" stroke-width="0.65"><rect x="47.27" y="293.08" width="21.55" height="68.12"/><rect x="68.82" y="299.06" width="21.55" height="62.14"/><rect x="90.38" y="328.94" width="21.55" height="32.26"/><rect x="111.92" y="348.06" width="21.55" height="13.14"/></g>
<polyline points="32.40,347.58 34.46,345.26 36.53,342.70 38.59,339.88 40.65,336.83 42.72,333.57 44.78,330.10 46.84,326.47 48.91,322.72 50.97,318.89 53.03,315.04 55.10,311.24 57.16,307.53 59.22,304.00 61.29,300.71 63.35,297.73 65.41,295.11 67.48,292.92 69.54,291.20 71.60,290.00 73.67,289.33 75.73,289.23 77.79,289.68 79.86,290.67 81.92,292.19 83.98,294.21 86.05,296.66 88.11,299.51 90.17,302.69 92.24,306.14 94.30,309.78 96.36,313.55 98.43,317.39 100.49,321.23 102.55,325.02 104.62,328.70 106.68,332.24 108.74,335.59 110.81,338.72 112.87,341.63 114.93,344.29 117.00,346.71 119.06,348.87 121.12,350.79 123.19,352.48 125.25,353.96 127.31,355.23 129.38,356.31 131.44,357.23 133.50,358.00 135.57,358.65 137.63,359.17 139.69,359.61 141.76,359.95 143.82,360.23 145.88,360.46 147.95,360.63 150.01,360.77 152.07,360.88 154.14,360.96 156.20,361.02" fill="none" stroke="#2c2ccc" stroke-width="0.75"/>
<line x1="48.00" x2="48.00" y1="285.90" y2="365.30" stroke="#1a7a48" stroke-width="1.7" opacity="1"/>
<line x1="51.20" x2="51.20" y1="285.90" y2="365.30" stroke="#c07058" stroke-width="0.8" opacity="1"/>
<line x1="52.30" x2="52.30" y1="285.90" y2="365.30" stroke="#a020f0" stroke-width="1.3" opacity="1"/>
<line x1="74.90" x2="74.90" y1="285.90" y2="365.30" stroke="rgba(255,26,160,0.55)" stroke-width="1.7" opacity="1"/>
<path d="M26.60 284.30V257.90H162.60V284.30M26.60 285.60H162.60V365.60H26.60Z" fill="none" stroke="#a2a2a2" stroke-width="0.7"/>
<line x1="26.30" x2="162.90" y1="284.30" y2="284.30" stroke="#868686" stroke-width="1.3"/>
<ellipse cx="74.90" cy="260.90" rx="1.1" ry="0.95" fill="#ff1aa0"/>
<line x1="25.10" x2="26.60" y1="260.90" y2="260.90" stroke="#222" stroke-width="0.65"/>
<ellipse cx="52.60" cy="266.00" rx="1.1" ry="0.95" fill="#a020f0"/>
<line x1="25.10" x2="26.60" y1="266.00" y2="266.00" stroke="#222" stroke-width="0.65"/>
<ellipse cx="48.10" cy="271.10" rx="1" ry="0.95" fill="#1a8a2e"/>
<line x1="25.10" x2="26.60" y1="271.10" y2="271.10" stroke="#222" stroke-width="0.65"/>
<ellipse cx="47.60" cy="276.20" rx="1" ry="0.95" fill="#1f9a9a"/>
<line x1="25.10" x2="26.60" y1="276.20" y2="276.20" stroke="#222" stroke-width="0.65"/>
<ellipse cx="51.10" cy="281.30" rx="1" ry="0.95" fill="#a52a2a"/>
<line x1="25.10" x2="26.60" y1="281.30" y2="281.30" stroke="#222" stroke-width="0.65"/>
<line x1="25.00" x2="26.60" y1="361.20" y2="361.20" stroke="#222" stroke-width="0.65"/>
<line x1="25.00" x2="26.60" y1="337.30" y2="337.30" stroke="#222" stroke-width="0.65"/>
<line x1="25.00" x2="26.60" y1="313.40" y2="313.40" stroke="#222" stroke-width="0.65"/>
<line x1="25.00" x2="26.60" y1="289.50" y2="289.50" stroke="#222" stroke-width="0.65"/>
<line x1="36.50" x2="36.50" y1="365.60" y2="367.10" stroke="#222" stroke-width="0.65"/>
<line x1="79.60" x2="79.60" y1="365.60" y2="367.10" stroke="#222" stroke-width="0.65"/>
<line x1="122.70" x2="122.70" y1="365.60" y2="367.10" stroke="#222" stroke-width="0.65"/>
</g>
<g id="GMP">
<path d="M214.40 259.20V285.50M214.40 286.80V365.10M234.80 259.20V285.50M234.80 286.80V365.10M255.20 259.20V285.50M255.20 286.80V365.10M275.60 259.20V285.50M275.60 286.80V365.10M296.00 259.20V285.50M296.00 286.80V365.10M316.40 259.20V285.50M316.40 286.80V365.10M194.00 361.50H330.00M194.00 351.52H330.00M194.00 341.54H330.00M194.00 331.56H330.00M194.00 321.58H330.00M194.00 311.60H330.00M194.00 301.62H330.00M194.00 291.64H330.00M194.00 262.20H330.00M194.00 267.28H330.00M194.00 272.36H330.00M194.00 277.44H330.00M194.00 282.52H330.00" stroke="#ebebeb" stroke-width="0.5" fill="none"/>
<g fill="#c2c2c2" stroke="#3a3a3a" stroke-width="0.65"><rect x="204.20" y="348.53" width="20.40" height="12.97"/><rect x="224.60" y="291.64" width="20.40" height="69.86"/><rect x="245.00" y="306.61" width="20.40" height="54.89"/><rect x="265.40" y="340.54" width="20.40" height="20.96"/><rect x="285.80" y="358.51" width="20.40" height="2.99"/></g>
<polyline points="200.00,358.60 202.06,357.69 204.13,356.54 206.19,355.13 208.25,353.43 210.32,351.38 212.38,348.98 214.44,346.19 216.51,343.01 218.57,339.45 220.63,335.52 222.70,331.26 224.76,326.74 226.82,322.03 228.89,317.23 230.95,312.45 233.01,307.83 235.08,303.48 237.14,299.55 239.20,296.16 241.27,293.43 243.33,291.45 245.39,290.30 247.46,290.01 249.52,290.60 251.58,292.05 253.65,294.29 255.71,297.26 257.77,300.85 259.84,304.94 261.90,309.40 263.96,314.10 266.03,318.89 268.09,323.68 270.15,328.33 272.22,332.77 274.28,336.92 276.34,340.72 278.41,344.16 280.47,347.20 282.53,349.85 284.60,352.13 286.66,354.05 288.72,355.65 290.79,356.97 292.85,358.03 294.91,358.87 296.98,359.54 299.04,360.05 301.10,360.44 303.17,360.74 305.23,360.96 307.29,361.12 309.36,361.24 311.42,361.32 313.48,361.38 315.55,361.42 317.61,361.45 319.67,361.46 321.74,361.48 323.80,361.49" fill="none" stroke="#2c2ccc" stroke-width="0.75"/>
<line x1="232.40" x2="232.40" y1="287.10" y2="364.80" stroke="#1f9a9a" stroke-width="1.0" opacity="1"/>
<line x1="233.40" x2="233.40" y1="287.10" y2="364.80" stroke="#1a8a2e" stroke-width="1.0" opacity="1"/>
<line x1="234.20" x2="234.20" y1="287.10" y2="364.80" stroke="#a52a2a" stroke-width="0.8" opacity="1"/>
<line x1="235.10" x2="235.10" y1="287.10" y2="364.80" stroke="#e020b0" stroke-width="1.8" opacity="1"/>
<path d="M194.00 285.50V259.20H330.00V285.50M194.00 286.80H330.00V365.10H194.00Z" fill="none" stroke="#a2a2a2" stroke-width="0.7"/>
<line x1="193.70" x2="330.30" y1="285.50" y2="285.50" stroke="#909090" stroke-width="1.2"/>
<ellipse cx="235.50" cy="262.20" rx="1.2" ry="0.95" fill="#ff1aa0"/>
<line x1="192.50" x2="194.00" y1="262.20" y2="262.20" stroke="#222" stroke-width="0.65"/>
<ellipse cx="234.80" cy="267.28" rx="1.2" ry="0.95" fill="#a020f0"/>
<line x1="192.50" x2="194.00" y1="267.28" y2="267.28" stroke="#222" stroke-width="0.65"/>
<ellipse cx="233.20" cy="272.36" rx="1.3" ry="0.95" fill="#1a8a2e"/>
<line x1="192.50" x2="194.00" y1="272.36" y2="272.36" stroke="#222" stroke-width="0.65"/>
<ellipse cx="232.40" cy="277.44" rx="1.3" ry="0.95" fill="#1f9a9a"/>
<line x1="192.50" x2="194.00" y1="277.44" y2="277.44" stroke="#222" stroke-width="0.65"/>
<ellipse cx="234.20" cy="282.52" rx="1.3" ry="0.95" fill="#a52a2a"/>
<line x1="192.50" x2="194.00" y1="282.52" y2="282.52" stroke="#222" stroke-width="0.65"/>
<line x1="192.40" x2="194.00" y1="361.50" y2="361.50" stroke="#222" stroke-width="0.65"/>
<line x1="192.40" x2="194.00" y1="341.54" y2="341.54" stroke="#222" stroke-width="0.65"/>
<line x1="192.40" x2="194.00" y1="321.58" y2="321.58" stroke="#222" stroke-width="0.65"/>
<line x1="192.40" x2="194.00" y1="301.62" y2="301.62" stroke="#222" stroke-width="0.65"/>
<line x1="194.00" x2="194.00" y1="365.10" y2="366.60" stroke="#222" stroke-width="0.65"/>
<line x1="234.80" x2="234.80" y1="365.10" y2="366.60" stroke="#222" stroke-width="0.65"/>
<line x1="275.60" x2="275.60" y1="365.10" y2="366.60" stroke="#222" stroke-width="0.65"/>
<line x1="316.40" x2="316.40" y1="365.10" y2="366.60" stroke="#222" stroke-width="0.65"/>
</g>
<g id="HM">
<path d="M367.80 259.20V285.20M367.80 287.10V365.60M391.50 259.20V285.20M391.50 287.10V365.60M415.20 259.20V285.20M415.20 287.10V365.60M438.90 259.20V285.20M438.90 287.10V365.60M462.60 259.20V285.20M462.60 287.10V365.60M486.30 259.20V285.20M486.30 287.10V365.60M361.40 362.30H502.50M361.40 352.50H502.50M361.40 342.70H502.50M361.40 332.90H502.50M361.40 323.10H502.50M361.40 313.30H502.50M361.40 303.50H502.50M361.40 293.70H502.50M361.40 262.20H502.50M361.40 267.28H502.50M361.40 272.36H502.50M361.40 277.44H502.50M361.40 282.52H502.50" stroke="#ebebeb" stroke-width="0.5" fill="none"/>
<g fill="#c2c2c2" stroke="#3a3a3a" stroke-width="0.65"><rect x="379.65" y="305.46" width="23.70" height="56.84"/><rect x="403.35" y="300.56" width="23.70" height="61.74"/><rect x="427.05" y="333.88" width="23.70" height="28.42"/><rect x="450.75" y="357.40" width="23.70" height="4.90"/></g>
<polyline points="367.80,354.16 369.93,352.30 372.06,350.14 374.19,347.66 376.32,344.85 378.45,341.72 380.58,338.27 382.71,334.53 384.84,330.53 386.97,326.32 389.10,321.97 391.23,317.55 393.36,313.15 395.49,308.87 397.62,304.80 399.75,301.05 401.88,297.71 404.01,294.88 406.14,292.64 408.27,291.06 410.40,290.18 412.53,290.03 414.66,290.62 416.79,291.92 418.92,293.89 421.05,296.49 423.18,299.63 425.31,303.22 427.44,307.17 429.57,311.38 431.70,315.75 433.83,320.17 435.96,324.56 438.09,328.84 440.22,332.93 442.35,336.78 444.48,340.35 446.61,343.61 448.74,346.55 450.87,349.17 453.00,351.45 455.13,353.44 457.26,355.13 459.39,356.56 461.52,357.75 463.65,358.73 465.78,359.53 467.91,360.17 470.04,360.68 472.17,361.08 474.30,361.39 476.43,361.63 478.56,361.81 480.69,361.94 482.82,362.05 484.95,362.12 487.08,362.17 489.21,362.21 491.34,362.24 493.47,362.26 495.60,362.27" fill="none" stroke="#2c2ccc" stroke-width="0.75"/>
<line x1="393.90" x2="393.90" y1="287.40" y2="365.30" stroke="rgba(255,26,160,0.55)" stroke-width="1.6" opacity="1"/>
<line x1="401.50" x2="401.50" y1="287.40" y2="365.30" stroke="#1f9a9a" stroke-width="0.9" opacity="1"/>
<line x1="401.90" x2="401.90" y1="287.40" y2="365.30" stroke="#1a8a2e" stroke-width="0.8" opacity="1"/>
<line x1="402.50" x2="402.50" y1="287.40" y2="365.30" stroke="#3c3cb8" stroke-width="1.3" opacity="1"/>
<path d="M361.40 285.20V259.20H502.50V285.20M361.40 287.10H502.50V365.60H361.40Z" fill="none" stroke="#a2a2a2" stroke-width="0.7"/>
<line x1="361.10" x2="502.80" y1="285.20" y2="285.20" stroke="#969696" stroke-width="1.0"/>
<ellipse cx="393.90" cy="262.20" rx="1.3" ry="0.95" fill="#ff1aa0"/>
<line x1="359.90" x2="361.40" y1="262.20" y2="262.20" stroke="#222" stroke-width="0.65"/>
<ellipse cx="402.30" cy="267.28" rx="1.3" ry="0.95" fill="#a020f0"/>
<line x1="359.90" x2="361.40" y1="267.28" y2="267.28" stroke="#222" stroke-width="0.65"/>
<ellipse cx="402.70" cy="272.36" rx="1.3" ry="0.95" fill="#1a8a2e"/>
<line x1="359.90" x2="361.40" y1="272.36" y2="272.36" stroke="#222" stroke-width="0.65"/>
<ellipse cx="401.80" cy="277.44" rx="1.4" ry="0.95" fill="#1f9a9a"/>
<line x1="359.90" x2="361.40" y1="277.44" y2="277.44" stroke="#222" stroke-width="0.65"/>
<ellipse cx="402.40" cy="282.52" rx="1.3" ry="0.95" fill="#a52a2a"/>
<line x1="359.90" x2="361.40" y1="282.52" y2="282.52" stroke="#222" stroke-width="0.65"/>
<line x1="359.80" x2="361.40" y1="362.30" y2="362.30" stroke="#222" stroke-width="0.65"/>
<line x1="359.80" x2="361.40" y1="342.70" y2="342.70" stroke="#222" stroke-width="0.65"/>
<line x1="359.80" x2="361.40" y1="323.10" y2="323.10" stroke="#222" stroke-width="0.65"/>
<line x1="359.80" x2="361.40" y1="303.50" y2="303.50" stroke="#222" stroke-width="0.65"/>
<line x1="367.80" x2="367.80" y1="365.60" y2="367.10" stroke="#222" stroke-width="0.65"/>
<line x1="415.20" x2="415.20" y1="365.60" y2="367.10" stroke="#222" stroke-width="0.65"/>
<line x1="462.60" x2="462.60" y1="365.60" y2="367.10" stroke="#222" stroke-width="0.65"/>
</g>
<g id="MRP">
<path d="M541.50 259.50V285.80M541.50 286.60V365.60M558.25 259.50V285.80M558.25 286.60V365.60M575.00 259.50V285.80M575.00 286.60V365.60M591.75 259.50V285.80M591.75 286.60V365.60M608.50 259.50V285.80M608.50 286.60V365.60M625.25 259.50V285.80M625.25 286.60V365.60M642.00 259.50V285.80M642.00 286.60V365.60M658.75 259.50V285.80M658.75 286.60V365.60M675.50 259.50V285.80M675.50 286.60V365.60M532.50 361.50H683.40M532.50 348.30H683.40M532.50 335.10H683.40M532.50 321.90H683.40M532.50 308.70H683.40M532.50 295.50H683.40M532.50 262.20H683.40M532.50 267.28H683.40M532.50 272.36H683.40M532.50 277.44H683.40M532.50 282.52H683.40" stroke="#ebebeb" stroke-width="0.5" fill="none"/>
<g fill="#c2c2c2" stroke="#3a3a3a" stroke-width="0.65"><rect x="549.88" y="290.22" width="16.75" height="71.28"/><rect x="566.62" y="303.42" width="16.75" height="58.08"/><rect x="583.38" y="329.82" width="16.75" height="31.68"/><rect x="600.12" y="335.10" width="16.75" height="26.40"/><rect x="616.88" y="350.94" width="16.75" height="10.56"/></g>
<polyline points="539.20,345.12 541.49,342.32 543.78,339.27 546.08,335.99 548.37,332.51 550.66,328.88 552.95,325.15 555.24,321.39 557.53,317.68 559.83,314.09 562.12,310.71 564.41,307.63 566.70,304.91 568.99,302.65 571.28,300.88 573.58,299.68 575.87,299.08 578.16,299.08 580.45,299.69 582.74,300.90 585.03,302.67 587.33,304.94 589.62,307.66 591.91,310.75 594.20,314.13 596.49,317.72 598.78,321.43 601.08,325.19 603.37,328.92 605.66,332.55 607.95,336.03 610.24,339.31 612.53,342.35 614.83,345.14 617.12,347.67 619.41,349.91 621.70,351.89 623.99,353.61 626.28,355.08 628.58,356.33 630.87,357.38 633.16,358.25 635.45,358.96 637.74,359.53 640.03,359.99 642.33,360.35 644.62,360.64 646.91,360.86 649.20,361.03 651.49,361.16 653.78,361.25 656.08,361.32 658.37,361.37 660.66,361.41 662.95,361.44 665.24,361.46 667.53,361.47 669.83,361.48 672.12,361.49 674.41,361.49 676.70,361.49" fill="none" stroke="#2c2ccc" stroke-width="0.75"/>
<line x1="556.40" x2="556.40" y1="286.90" y2="365.30" stroke="#1f9a9a" stroke-width="1.0" opacity="1"/>
<line x1="557.60" x2="557.60" y1="286.90" y2="365.30" stroke="#1a8a2e" stroke-width="1.4" opacity="1"/>
<line x1="558.80" x2="558.80" y1="286.90" y2="365.30" stroke="#a52a2a" stroke-width="0.9" opacity="1"/>
<line x1="559.70" x2="559.70" y1="286.90" y2="365.30" stroke="#a020f0" stroke-width="0.9" opacity="1"/>
<line x1="563.60" x2="563.60" y1="286.90" y2="365.30" stroke="#ff1aa0" stroke-width="1.0" opacity="1"/>
<path d="M532.50 285.80V259.50H683.40V285.80M532.50 286.60H683.40V365.60H532.50Z" fill="none" stroke="#a2a2a2" stroke-width="0.7"/>
<line x1="532.20" x2="683.70" y1="285.80" y2="285.80" stroke="#858585" stroke-width="1.0"/>
<ellipse cx="563.60" cy="262.20" rx="1.2" ry="0.95" fill="#ff1aa0"/>
<line x1="531.00" x2="532.50" y1="262.20" y2="262.20" stroke="#222" stroke-width="0.65"/>
<ellipse cx="559.40" cy="267.28" rx="1.3" ry="0.95" fill="#a020f0"/>
<line x1="531.00" x2="532.50" y1="267.28" y2="267.28" stroke="#222" stroke-width="0.65"/>
<ellipse cx="557.60" cy="272.36" rx="1.3" ry="0.95" fill="#1a8a2e"/>
<line x1="531.00" x2="532.50" y1="272.36" y2="272.36" stroke="#222" stroke-width="0.65"/>
<ellipse cx="556.60" cy="277.44" rx="1.4" ry="0.95" fill="#1f9a9a"/>
<line x1="531.00" x2="532.50" y1="277.44" y2="277.44" stroke="#222" stroke-width="0.65"/>
<ellipse cx="558.60" cy="282.52" rx="1.3" ry="0.95" fill="#a52a2a"/>
<line x1="531.00" x2="532.50" y1="282.52" y2="282.52" stroke="#222" stroke-width="0.65"/>
<line x1="530.90" x2="532.50" y1="361.50" y2="361.50" stroke="#222" stroke-width="0.65"/>
<line x1="530.90" x2="532.50" y1="335.10" y2="335.10" stroke="#222" stroke-width="0.65"/>
<line x1="530.90" x2="532.50" y1="308.70" y2="308.70" stroke="#222" stroke-width="0.65"/>
<line x1="541.50" x2="541.50" y1="365.60" y2="367.10" stroke="#222" stroke-width="0.65"/>
<line x1="575.00" x2="575.00" y1="365.60" y2="367.10" stroke="#222" stroke-width="0.65"/>
<line x1="608.50" x2="608.50" y1="365.60" y2="367.10" stroke="#222" stroke-width="0.65"/>
<line x1="642.00" x2="642.00" y1="365.60" y2="367.10" stroke="#222" stroke-width="0.65"/>
<line x1="675.50" x2="675.50" y1="365.60" y2="367.10" stroke="#222" stroke-width="0.65"/>
</g>
<g id="PYR">
<path d="M280.30 390.60V417.10M280.30 418.00V497.30M303.17 390.60V417.10M303.17 418.00V497.30M326.04 390.60V417.10M326.04 418.00V497.30M348.91 390.60V417.10M348.91 418.00V497.30M371.78 390.60V417.10M371.78 418.00V497.30M394.65 390.60V417.10M394.65 418.00V497.30M417.52 390.60V417.10M417.52 418.00V497.30M278.40 494.20H426.60M278.40 483.55H426.60M278.40 472.90H426.60M278.40 462.25H426.60M278.40 451.60H426.60M278.40 440.95H426.60M278.40 430.30H426.60M278.40 419.65H426.60M278.40 393.80H426.60M278.40 398.85H426.60M278.40 403.90H426.60M278.40 408.95H426.60M278.40 414.00H426.60" stroke="#ebebeb" stroke-width="0.5" fill="none"/>
<g fill="#c2c2c2" stroke="#3a3a3a" stroke-width="0.65"><rect x="297.45" y="489.94" width="11.44" height="4.26"/><rect x="308.89" y="485.68" width="11.44" height="8.52"/><rect x="320.32" y="489.94" width="11.44" height="4.26"/><rect x="331.76" y="477.16" width="11.44" height="17.04"/><rect x="343.19" y="464.38" width="11.44" height="29.82"/><rect x="354.63" y="460.12" width="11.44" height="34.08"/><rect x="366.06" y="421.78" width="11.44" height="72.42"/><rect x="377.50" y="430.30" width="11.44" height="63.90"/><rect x="388.93" y="423.91" width="11.44" height="70.29"/><rect x="400.37" y="464.38" width="11.44" height="29.82"/></g>
<polyline points="285.30,494.14 287.54,494.11 289.78,494.08 292.01,494.03 294.25,493.97 296.49,493.89 298.73,493.78 300.97,493.64 303.21,493.45 305.44,493.22 307.68,492.92 309.92,492.54 312.16,492.07 314.40,491.50 316.64,490.80 318.88,489.95 321.11,488.94 323.35,487.75 325.59,486.35 327.83,484.73 330.07,482.88 332.31,480.79 334.54,478.44 336.78,475.84 339.02,473.00 341.26,469.94 343.50,466.67 345.74,463.23 347.97,459.67 350.21,456.02 352.45,452.36 354.69,448.75 356.93,445.25 359.17,441.93 361.40,438.88 363.64,436.15 365.88,433.82 368.12,431.94 370.36,430.55 372.60,429.70 374.83,429.40 377.07,429.66 379.31,430.48 381.55,431.84 383.79,433.69 386.03,436.00 388.26,438.71 390.50,441.74 392.74,445.04 394.98,448.53 397.22,452.14 399.46,455.81 401.69,459.45 403.93,463.02 406.17,466.47 408.41,469.75 410.65,472.83 412.88,475.68 415.12,478.29 417.36,480.65 419.60,482.76" fill="none" stroke="#2c2ccc" stroke-width="0.75"/>
<line x1="368.60" x2="368.60" y1="418.30" y2="497.00" stroke="#1a8a2e" stroke-width="1.3" opacity="0.65"/>
<line x1="370.00" x2="370.00" y1="418.30" y2="497.00" stroke="#1f9a9a" stroke-width="1.1" opacity="0.65"/>
<line x1="373.10" x2="373.10" y1="418.30" y2="497.00" stroke="#a52a2a" stroke-width="1.0" opacity="0.65"/>
<line x1="374.40" x2="374.40" y1="418.30" y2="497.00" stroke="#a020f0" stroke-width="1.2" opacity="0.65"/>
<line x1="398.00" x2="398.00" y1="418.30" y2="497.00" stroke="#ff1aa0" stroke-width="1.6" opacity="0.65"/>
<path d="M278.40 417.10V390.60H426.60V417.10M278.40 418.00H426.60V497.30H278.40Z" fill="none" stroke="#a2a2a2" stroke-width="0.7"/>
<line x1="278.10" x2="426.90" y1="417.10" y2="417.10" stroke="#a8a8a8" stroke-width="1.6"/>
<ellipse cx="398.00" cy="393.80" rx="1.0" ry="0.95" fill="#ff1aa0"/>
<line x1="276.90" x2="278.40" y1="393.80" y2="393.80" stroke="#222" stroke-width="0.65"/>
<ellipse cx="374.90" cy="398.85" rx="1.7" ry="0.95" fill="#a020f0"/>
<line x1="276.90" x2="278.40" y1="398.85" y2="398.85" stroke="#222" stroke-width="0.65"/>
<ellipse cx="368.90" cy="403.90" rx="1.4" ry="0.95" fill="#1a8a2e"/>
<line x1="276.90" x2="278.40" y1="403.90" y2="403.90" stroke="#222" stroke-width="0.65"/>
<ellipse cx="370.00" cy="408.95" rx="1.6" ry="0.95" fill="#1f9a9a"/>
<line x1="276.90" x2="278.40" y1="408.95" y2="408.95" stroke="#222" stroke-width="0.65"/>
<ellipse cx="373.10" cy="414.00" rx="1.2" ry="0.95" fill="#a52a2a"/>
<line x1="276.90" x2="278.40" y1="414.00" y2="414.00" stroke="#222" stroke-width="0.65"/>
<line x1="276.80" x2="278.40" y1="494.20" y2="494.20" stroke="#222" stroke-width="0.65"/>
<line x1="276.80" x2="278.40" y1="472.90" y2="472.90" stroke="#222" stroke-width="0.65"/>
<line x1="276.80" x2="278.40" y1="451.60" y2="451.60" stroke="#222" stroke-width="0.65"/>
<line x1="276.80" x2="278.40" y1="430.30" y2="430.30" stroke="#222" stroke-width="0.65"/>
<line x1="280.30" x2="280.30" y1="497.30" y2="498.80" stroke="#222" stroke-width="0.65"/>
<line x1="326.04" x2="326.04" y1="497.30" y2="498.80" stroke="#222" stroke-width="0.65"/>
<line x1="371.78" x2="371.78" y1="497.30" y2="498.80" stroke="#222" stroke-width="0.65"/>
<line x1="417.52" x2="417.52" y1="497.30" y2="498.80" stroke="#222" stroke-width="0.65"/>
</g>
<g filter="url(#gs)">
<text transform="translate(24.30 7.75) rotate(0.2)" font-size="3.5" text-anchor="end" fill="#000" stroke="#000" stroke-width="0.13">Check-5</text>
<text transform="translate(24.30 12.78) rotate(0.2)" font-size="3.5" text-anchor="end" fill="#000" stroke="#000" stroke-width="0.13">Check-4</text>
<text transform="translate(24.30 17.81) rotate(0.2)" font-size="3.5" text-anchor="end" fill="#000" stroke="#000" stroke-width="0.13">Check-3</text>
<text transform="translate(24.30 22.84) rotate(0.2)" font-size="3.5" text-anchor="end" fill="#000" stroke="#000" stroke-width="0.13">Check-2</text>
<text transform="translate(24.30 27.87) rotate(0.2)" font-size="3.5" text-anchor="end" fill="#000" stroke="#000" stroke-width="0.13">Check-1</text>
<text transform="translate(24.10 107.95) rotate(0.2)" font-size="3.5" text-anchor="end" fill="#000" stroke="#000" stroke-width="0.13">0</text>
<text transform="translate(24.10 89.89) rotate(0.2)" font-size="3.5" text-anchor="end" fill="#000" stroke="#000" stroke-width="0.13">10</text>
<text transform="translate(24.10 71.83) rotate(0.2)" font-size="3.5" text-anchor="end" fill="#000" stroke="#000" stroke-width="0.13">20</text>
<text transform="translate(24.10 53.77) rotate(0.2)" font-size="3.5" text-anchor="end" fill="#000" stroke="#000" stroke-width="0.13">30</text>
<text transform="translate(24.10 35.71) rotate(0.2)" font-size="3.5" text-anchor="end" fill="#000" stroke="#000" stroke-width="0.13">40</text>
<text transform="translate(50.00 115.40) rotate(0.2)" font-size="3.5" text-anchor="middle" fill="#000" stroke="#000" stroke-width="0.13">20</text>
<text transform="translate(76.40 115.40) rotate(0.2)" font-size="3.5" text-anchor="middle" fill="#000" stroke="#000" stroke-width="0.13">30</text>
<text transform="translate(102.80 115.40) rotate(0.2)" font-size="3.5" text-anchor="middle" fill="#000" stroke="#000" stroke-width="0.13">40</text>
<text transform="translate(129.20 115.40) rotate(0.2)" font-size="3.5" text-anchor="middle" fill="#000" stroke="#000" stroke-width="0.13">50</text>
<text transform="translate(155.60 115.40) rotate(0.2)" font-size="3.5" text-anchor="middle" fill="#000" stroke="#000" stroke-width="0.13">60</text>
<text transform="translate(10.10 70.50) rotate(-89.8)" font-size="5" text-anchor="middle" fill="#000" stroke="#000" stroke-width="0.1">Frequency</text>
<text class="ttl" transform="translate(87.20 128.70) rotate(0.1)" font-size="11" font-weight="bold" textLength="13.60" lengthAdjust="spacingAndGlyphs" fill="#000" stroke="#000" stroke-width="0.22">Yp</text>
<text transform="translate(191.40 7.65) rotate(0.2)" font-size="3.5" text-anchor="end" fill="#000" stroke="#000" stroke-width="0.13">Check-5</text>
<text transform="translate(191.40 12.85) rotate(0.2)" font-size="3.5" text-anchor="end" fill="#000" stroke="#000" stroke-width="0.13">Check-4</text>
<text transform="translate(191.40 18.05) rotate(0.2)" font-size="3.5" text-anchor="end" fill="#000" stroke="#000" stroke-width="0.13">Check-3</text>
<text transform="translate(191.40 23.25) rotate(0.2)" font-size="3.5" text-anchor="end" fill="#000" stroke="#000" stroke-width="0.13">Check-2</text>
<text transform="translate(191.40 28.45) rotate(0.2)" font-size="3.5" text-anchor="end" fill="#000" stroke="#000" stroke-width="0.13">Check-1</text>
<text transform="translate(191.20 110.55) rotate(0.2)" font-size="3.5" text-anchor="end" fill="#000" stroke="#000" stroke-width="0.13">0</text>
<text transform="translate(191.20 96.09) rotate(0.2)" font-size="3.5" text-anchor="end" fill="#000" stroke="#000" stroke-width="0.13">10</text>
<text transform="translate(191.20 81.63) rotate(0.2)" font-size="3.5" text-anchor="end" fill="#000" stroke="#000" stroke-width="0.13">20</text>
<text transform="translate(191.20 67.17) rotate(0.2)" font-size="3.5" text-anchor="end" fill="#000" stroke="#000" stroke-width="0.13">30</text>
<text transform="translate(191.20 52.71) rotate(0.2)" font-size="3.5" text-anchor="end" fill="#000" stroke="#000" stroke-width="0.13">40</text>
<text transform="translate(191.20 38.25) rotate(0.2)" font-size="3.5" text-anchor="end" fill="#000" stroke="#000" stroke-width="0.13">50</text>
<text transform="translate(198.90 118.40) rotate(0.2)" font-size="3.5" text-anchor="middle" fill="#000" stroke="#000" stroke-width="0.13">0</text>
<text transform="translate(233.20 118.40) rotate(0.2)" font-size="3.5" text-anchor="middle" fill="#000" stroke="#000" stroke-width="0.13">5</text>
<text transform="translate(267.50 118.40) rotate(0.2)" font-size="3.5" text-anchor="middle" fill="#000" stroke="#000" stroke-width="0.13">10</text>
<text transform="translate(301.80 118.40) rotate(0.2)" font-size="3.5" text-anchor="middle" fill="#000" stroke="#000" stroke-width="0.13">15</text>
<text transform="translate(176.90 72.20) rotate(-89.8)" font-size="5" text-anchor="middle" fill="#000" stroke="#000" stroke-width="0.1">Frequency</text>
<text class="ttl" transform="translate(247.30 128.90) rotate(0.1)" font-size="11" font-weight="bold" textLength="11.50" lengthAdjust="spacingAndGlyphs" fill="#000" stroke="#000" stroke-width="0.22">Ys</text>
<text transform="translate(358.00 5.75) rotate(0.2)" font-size="3.5" text-anchor="end" fill="#000" stroke="#000" stroke-width="0.13">Check-5</text>
<text transform="translate(358.00 11.02) rotate(0.2)" font-size="3.5" text-anchor="end" fill="#000" stroke="#000" stroke-width="0.13">Check-4</text>
<text transform="translate(358.00 16.29) rotate(0.2)" font-size="3.5" text-anchor="end" fill="#000" stroke="#000" stroke-width="0.13">Check-3</text>
<text transform="translate(358.00 21.56) rotate(0.2)" font-size="3.5" text-anchor="end" fill="#000" stroke="#000" stroke-width="0.13">Check-2</text>
<text transform="translate(358.00 26.83) rotate(0.2)" font-size="3.5" text-anchor="end" fill="#000" stroke="#000" stroke-width="0.13">Check-1</text>
<text transform="translate(357.80 109.25) rotate(0.2)" font-size="3.5" text-anchor="end" fill="#000" stroke="#000" stroke-width="0.13">0</text>
<text transform="translate(357.80 90.15) rotate(0.2)" font-size="3.5" text-anchor="end" fill="#000" stroke="#000" stroke-width="0.13">10</text>
<text transform="translate(357.80 71.05) rotate(0.2)" font-size="3.5" text-anchor="end" fill="#000" stroke="#000" stroke-width="0.13">20</text>
<text transform="translate(357.80 51.95) rotate(0.2)" font-size="3.5" text-anchor="end" fill="#000" stroke="#000" stroke-width="0.13">30</text>
<text transform="translate(357.80 32.85) rotate(0.2)" font-size="3.5" text-anchor="end" fill="#000" stroke="#000" stroke-width="0.13">40</text>
<text transform="translate(398.70 116.80) rotate(0.2)" font-size="3.5" text-anchor="middle" fill="#000" stroke="#000" stroke-width="0.13">20</text>
<text transform="translate(447.40 116.80) rotate(0.2)" font-size="3.5" text-anchor="middle" fill="#000" stroke="#000" stroke-width="0.13">40</text>
<text transform="translate(496.10 116.80) rotate(0.2)" font-size="3.5" text-anchor="middle" fill="#000" stroke="#000" stroke-width="0.13">60</text>
<text transform="translate(343.10 70.70) rotate(-89.8)" font-size="5" text-anchor="middle" fill="#000" stroke="#000" stroke-width="0.1">Frequency</text>
<text class="ttl" transform="translate(414.00 128.90) rotate(0.1)" font-size="11" font-weight="bold" textLength="20.70" lengthAdjust="spacingAndGlyphs" fill="#000" stroke="#000" stroke-width="0.22">TOL</text>
<text transform="translate(530.40 5.85) rotate(0.2)" font-size="3.5" text-anchor="end" fill="#000" stroke="#000" stroke-width="0.13">Check-5</text>
<text transform="translate(530.40 11.10) rotate(0.2)" font-size="3.5" text-anchor="end" fill="#000" stroke="#000" stroke-width="0.13">Check-4</text>
<text transform="translate(530.40 16.35) rotate(0.2)" font-size="3.5" text-anchor="end" fill="#000" stroke="#000" stroke-width="0.13">Check-3</text>
<text transform="translate(530.40 21.60) rotate(0.2)" font-size="3.5" text-anchor="end" fill="#000" stroke="#000" stroke-width="0.13">Check-2</text>
<text transform="translate(530.40 26.85) rotate(0.2)" font-size="3.5" text-anchor="end" fill="#000" stroke="#000" stroke-width="0.13">Check-1</text>
<text transform="translate(530.20 108.55) rotate(0.2)" font-size="3.5" text-anchor="end" fill="#000" stroke="#000" stroke-width="0.13">0</text>
<text transform="translate(530.20 86.25) rotate(0.2)" font-size="3.5" text-anchor="end" fill="#000" stroke="#000" stroke-width="0.13">20</text>
<text transform="translate(530.20 63.95) rotate(0.2)" font-size="3.5" text-anchor="end" fill="#000" stroke="#000" stroke-width="0.13">40</text>
<text transform="translate(530.20 41.65) rotate(0.2)" font-size="3.5" text-anchor="end" fill="#000" stroke="#000" stroke-width="0.13">60</text>
<text transform="translate(539.20 116.30) rotate(0.2)" font-size="3.5" text-anchor="middle" fill="#000" stroke="#000" stroke-width="0.13">0.00</text>
<text transform="translate(573.10 116.30) rotate(0.2)" font-size="3.5" text-anchor="middle" fill="#000" stroke="#000" stroke-width="0.13">0.25</text>
<text transform="translate(607.00 116.30) rotate(0.2)" font-size="3.5" text-anchor="middle" fill="#000" stroke="#000" stroke-width="0.13">0.50</text>
<text transform="translate(640.90 116.30) rotate(0.2)" font-size="3.5" text-anchor="middle" fill="#000" stroke="#000" stroke-width="0.13">0.75</text>
<text transform="translate(674.80 116.30) rotate(0.2)" font-size="3.5" text-anchor="middle" fill="#000" stroke="#000" stroke-width="0.13">1.00</text>
<text transform="translate(514.10 70.20) rotate(-89.8)" font-size="5" text-anchor="middle" fill="#000" stroke="#000" stroke-width="0.1">Frequency</text>
<text class="ttl" transform="translate(603.70 128.90) rotate(0.1)" font-size="11" font-weight="bold" textLength="16.40" lengthAdjust="spacingAndGlyphs" fill="#000" stroke="#000" stroke-width="0.22">STI</text>
<text transform="translate(20.40 139.75) rotate(0.2)" font-size="3.5" text-anchor="end" fill="#000" stroke="#000" stroke-width="0.13">Check-5</text>
<text transform="translate(20.40 144.68) rotate(0.2)" font-size="3.5" text-anchor="end" fill="#000" stroke="#000" stroke-width="0.13">Check-4</text>
<text transform="translate(20.40 149.61) rotate(0.2)" font-size="3.5" text-anchor="end" fill="#000" stroke="#000" stroke-width="0.13">Check-3</text>
<text transform="translate(20.40 154.54) rotate(0.2)" font-size="3.5" text-anchor="end" fill="#000" stroke="#000" stroke-width="0.13">Check-2</text>
<text transform="translate(20.40 159.47) rotate(0.2)" font-size="3.5" text-anchor="end" fill="#000" stroke="#000" stroke-width="0.13">Check-1</text>
<text transform="translate(20.20 235.95) rotate(0.2)" font-size="3.5" text-anchor="end" fill="#000" stroke="#000" stroke-width="0.13">0</text>
<text transform="translate(20.20 221.30) rotate(0.2)" font-size="3.5" text-anchor="end" fill="#000" stroke="#000" stroke-width="0.13">10</text>
<text transform="translate(20.20 206.65) rotate(0.2)" font-size="3.5" text-anchor="end" fill="#000" stroke="#000" stroke-width="0.13">20</text>
<text transform="translate(20.20 192.00) rotate(0.2)" font-size="3.5" text-anchor="end" fill="#000" stroke="#000" stroke-width="0.13">30</text>
<text transform="translate(20.20 177.35) rotate(0.2)" font-size="3.5" text-anchor="end" fill="#000" stroke="#000" stroke-width="0.13">40</text>
<text transform="translate(50.30 242.70) rotate(0.2)" font-size="3.5" text-anchor="middle" fill="#000" stroke="#000" stroke-width="0.13">25</text>
<text transform="translate(88.22 242.70) rotate(0.2)" font-size="3.5" text-anchor="middle" fill="#000" stroke="#000" stroke-width="0.13">50</text>
<text transform="translate(126.15 242.70) rotate(0.2)" font-size="3.5" text-anchor="middle" fill="#000" stroke="#000" stroke-width="0.13">75</text>
<text transform="translate(4.70 200.00) rotate(-89.8)" font-size="5" text-anchor="middle" fill="#000" stroke="#000" stroke-width="0.1">Frequency</text>
<text class="ttl" transform="translate(81.30 254.00) rotate(0.1)" font-size="11" font-weight="bold" textLength="22.70" lengthAdjust="spacingAndGlyphs" fill="#000" stroke="#000" stroke-width="0.22">SSPI</text>
<text transform="translate(192.70 140.15) rotate(0.2)" font-size="3.5" text-anchor="end" fill="#000" stroke="#000" stroke-width="0.13">Check-5</text>
<text transform="translate(192.70 145.03) rotate(0.2)" font-size="3.5" text-anchor="end" fill="#000" stroke="#000" stroke-width="0.13">Check-4</text>
<text transform="translate(192.70 149.91) rotate(0.2)" font-size="3.5" text-anchor="end" fill="#000" stroke="#000" stroke-width="0.13">Check-3</text>
<text transform="translate(192.70 154.79) rotate(0.2)" font-size="3.5" text-anchor="end" fill="#000" stroke="#000" stroke-width="0.13">Check-2</text>
<text transform="translate(192.70 159.67) rotate(0.2)" font-size="3.5" text-anchor="end" fill="#000" stroke="#000" stroke-width="0.13">Check-1</text>
<text transform="translate(192.50 235.95) rotate(0.2)" font-size="3.5" text-anchor="end" fill="#000" stroke="#000" stroke-width="0.13">0</text>
<text transform="translate(192.50 212.35) rotate(0.2)" font-size="3.5" text-anchor="end" fill="#000" stroke="#000" stroke-width="0.13">20</text>
<text transform="translate(192.50 188.75) rotate(0.2)" font-size="3.5" text-anchor="end" fill="#000" stroke="#000" stroke-width="0.13">40</text>
<text transform="translate(192.50 165.15) rotate(0.2)" font-size="3.5" text-anchor="end" fill="#000" stroke="#000" stroke-width="0.13">60</text>
<text transform="translate(200.50 242.90) rotate(0.2)" font-size="3.5" text-anchor="middle" fill="#000" stroke="#000" stroke-width="0.13">0</text>
<text transform="translate(239.50 242.90) rotate(0.2)" font-size="3.5" text-anchor="middle" fill="#000" stroke="#000" stroke-width="0.13">1</text>
<text transform="translate(278.50 242.90) rotate(0.2)" font-size="3.5" text-anchor="middle" fill="#000" stroke="#000" stroke-width="0.13">2</text>
<text transform="translate(317.50 242.90) rotate(0.2)" font-size="3.5" text-anchor="middle" fill="#000" stroke="#000" stroke-width="0.13">3</text>
<text transform="translate(177.20 199.90) rotate(-89.8)" font-size="5" text-anchor="middle" fill="#000" stroke="#000" stroke-width="0.1">Frequency</text>
<text class="ttl" transform="translate(248.40 254.00) rotate(0.1)" font-size="11" font-weight="bold" textLength="10.30" lengthAdjust="spacingAndGlyphs" fill="#000" stroke="#000" stroke-width="0.22">YI</text>
<text transform="translate(358.20 139.45) rotate(0.2)" font-size="3.5" text-anchor="end" fill="#000" stroke="#000" stroke-width="0.13">Check-5</text>
<text transform="translate(358.20 144.40) rotate(0.2)" font-size="3.5" text-anchor="end" fill="#000" stroke="#000" stroke-width="0.13">Check-4</text>
<text transform="translate(358.20 149.35) rotate(0.2)" font-size="3.5" text-anchor="end" fill="#000" stroke="#000" stroke-width="0.13">Check-3</text>
<text transform="translate(358.20 154.30) rotate(0.2)" font-size="3.5" text-anchor="end" fill="#000" stroke="#000" stroke-width="0.13">Check-2</text>
<text transform="translate(358.20 159.25) rotate(0.2)" font-size="3.5" text-anchor="end" fill="#000" stroke="#000" stroke-width="0.13">Check-1</text>
<text transform="translate(358.00 235.65) rotate(0.2)" font-size="3.5" text-anchor="end" fill="#000" stroke="#000" stroke-width="0.13">0</text>
<text transform="translate(358.00 215.28) rotate(0.2)" font-size="3.5" text-anchor="end" fill="#000" stroke="#000" stroke-width="0.13">10</text>
<text transform="translate(358.00 194.91) rotate(0.2)" font-size="3.5" text-anchor="end" fill="#000" stroke="#000" stroke-width="0.13">20</text>
<text transform="translate(358.00 174.54) rotate(0.2)" font-size="3.5" text-anchor="end" fill="#000" stroke="#000" stroke-width="0.13">30</text>
<text transform="translate(366.80 242.80) rotate(0.2)" font-size="3.5" text-anchor="middle" fill="#000" stroke="#000" stroke-width="0.13">0.0</text>
<text transform="translate(411.40 242.80) rotate(0.2)" font-size="3.5" text-anchor="middle" fill="#000" stroke="#000" stroke-width="0.13">0.2</text>
<text transform="translate(456.00 242.80) rotate(0.2)" font-size="3.5" text-anchor="middle" fill="#000" stroke="#000" stroke-width="0.13">0.4</text>
<text transform="translate(500.60 242.80) rotate(0.2)" font-size="3.5" text-anchor="middle" fill="#000" stroke="#000" stroke-width="0.13">0.6</text>
<text transform="translate(343.10 199.40) rotate(-89.8)" font-size="5" text-anchor="middle" fill="#000" stroke="#000" stroke-width="0.1">Frequency</text>
<text class="ttl" transform="translate(417.20 254.00) rotate(0.1)" font-size="11" font-weight="bold" textLength="16.00" lengthAdjust="spacingAndGlyphs" fill="#000" stroke="#000" stroke-width="0.22">YSI</text>
<text transform="translate(529.80 139.25) rotate(0.2)" font-size="3.5" text-anchor="end" fill="#000" stroke="#000" stroke-width="0.13">Check-5</text>
<text transform="translate(529.80 144.18) rotate(0.2)" font-size="3.5" text-anchor="end" fill="#000" stroke="#000" stroke-width="0.13">Check-4</text>
<text transform="translate(529.80 149.11) rotate(0.2)" font-size="3.5" text-anchor="end" fill="#000" stroke="#000" stroke-width="0.13">Check-3</text>
<text transform="translate(529.80 154.04) rotate(0.2)" font-size="3.5" text-anchor="end" fill="#000" stroke="#000" stroke-width="0.13">Check-2</text>
<text transform="translate(529.80 158.97) rotate(0.2)" font-size="3.5" text-anchor="end" fill="#000" stroke="#000" stroke-width="0.13">Check-1</text>
<text transform="translate(529.60 235.95) rotate(0.2)" font-size="3.5" text-anchor="end" fill="#000" stroke="#000" stroke-width="0.13">0</text>
<text transform="translate(529.60 212.89) rotate(0.2)" font-size="3.5" text-anchor="end" fill="#000" stroke="#000" stroke-width="0.13">20</text>
<text transform="translate(529.60 189.83) rotate(0.2)" font-size="3.5" text-anchor="end" fill="#000" stroke="#000" stroke-width="0.13">40</text>
<text transform="translate(529.60 166.77) rotate(0.2)" font-size="3.5" text-anchor="end" fill="#000" stroke="#000" stroke-width="0.13">60</text>
<text transform="translate(538.60 243.20) rotate(0.2)" font-size="3.5" text-anchor="middle" fill="#000" stroke="#000" stroke-width="0.13">0</text>
<text transform="translate(580.60 243.20) rotate(0.2)" font-size="3.5" text-anchor="middle" fill="#000" stroke="#000" stroke-width="0.13">1</text>
<text transform="translate(622.60 243.20) rotate(0.2)" font-size="3.5" text-anchor="middle" fill="#000" stroke="#000" stroke-width="0.13">2</text>
<text transform="translate(664.60 243.20) rotate(0.2)" font-size="3.5" text-anchor="middle" fill="#000" stroke="#000" stroke-width="0.13">3</text>
<text transform="translate(513.20 200.20) rotate(-89.8)" font-size="5" text-anchor="middle" fill="#000" stroke="#000" stroke-width="0.1">Frequency</text>
<text class="ttl" transform="translate(603.10 254.00) rotate(0.1)" font-size="11" font-weight="bold" textLength="16.40" lengthAdjust="spacingAndGlyphs" fill="#000" stroke="#000" stroke-width="0.22">RSI</text>
<text transform="translate(24.50 262.15) rotate(0.2)" font-size="3.5" text-anchor="end" fill="#000" stroke="#000" stroke-width="0.13">Check-5</text>
<text transform="translate(24.50 267.25) rotate(0.2)" font-size="3.5" text-anchor="end" fill="#000" stroke="#000" stroke-width="0.13">Check-4</text>
<text transform="translate(24.50 272.35) rotate(0.2)" font-size="3.5" text-anchor="end" fill="#000" stroke="#000" stroke-width="0.13">Check-3</text>
<text transform="translate(24.50 277.45) rotate(0.2)" font-size="3.5" text-anchor="end" fill="#000" stroke="#000" stroke-width="0.13">Check-2</text>
<text transform="translate(24.50 282.55) rotate(0.2)" font-size="3.5" text-anchor="end" fill="#000" stroke="#000" stroke-width="0.13">Check-1</text>
<text transform="translate(24.30 362.45) rotate(0.2)" font-size="3.5" text-anchor="end" fill="#000" stroke="#000" stroke-width="0.13">0</text>
<text transform="translate(24.30 338.55) rotate(0.2)" font-size="3.5" text-anchor="end" fill="#000" stroke="#000" stroke-width="0.13">20</text>
<text transform="translate(24.30 314.65) rotate(0.2)" font-size="3.5" text-anchor="end" fill="#000" stroke="#000" stroke-width="0.13">40</text>
<text transform="translate(24.30 290.75) rotate(0.2)" font-size="3.5" text-anchor="end" fill="#000" stroke="#000" stroke-width="0.13">60</text>
<text transform="translate(36.50 370.50) rotate(0.2)" font-size="3.5" text-anchor="middle" fill="#000" stroke="#000" stroke-width="0.13">10</text>
<text transform="translate(79.60 370.50) rotate(0.2)" font-size="3.5" text-anchor="middle" fill="#000" stroke="#000" stroke-width="0.13">20</text>
<text transform="translate(122.70 370.50) rotate(0.2)" font-size="3.5" text-anchor="middle" fill="#000" stroke="#000" stroke-width="0.13">30</text>
<text transform="translate(10.10 325.00) rotate(-89.8)" font-size="5" text-anchor="middle" fill="#000" stroke="#000" stroke-width="0.1">Frequency</text>
<text class="ttl" transform="translate(87.20 384.10) rotate(0.1)" font-size="11" font-weight="bold" textLength="18.30" lengthAdjust="spacingAndGlyphs" fill="#000" stroke="#000" stroke-width="0.22">MP</text>
<text transform="translate(191.90 263.45) rotate(0.2)" font-size="3.5" text-anchor="end" fill="#000" stroke="#000" stroke-width="0.13">Check-5</text>
<text transform="translate(191.90 268.53) rotate(0.2)" font-size="3.5" text-anchor="end" fill="#000" stroke="#000" stroke-width="0.13">Check-4</text>
<text transform="translate(191.90 273.61) rotate(0.2)" font-size="3.5" text-anchor="end" fill="#000" stroke="#000" stroke-width="0.13">Check-3</text>
<text transform="translate(191.90 278.69) rotate(0.2)" font-size="3.5" text-anchor="end" fill="#000" stroke="#000" stroke-width="0.13">Check-2</text>
<text transform="translate(191.90 283.77) rotate(0.2)" font-size="3.5" text-anchor="end" fill="#000" stroke="#000" stroke-width="0.13">Check-1</text>
<text transform="translate(191.70 362.75) rotate(0.2)" font-size="3.5" text-anchor="end" fill="#000" stroke="#000" stroke-width="0.13">0</text>
<text transform="translate(191.70 342.79) rotate(0.2)" font-size="3.5" text-anchor="end" fill="#000" stroke="#000" stroke-width="0.13">20</text>
<text transform="translate(191.70 322.83) rotate(0.2)" font-size="3.5" text-anchor="end" fill="#000" stroke="#000" stroke-width="0.13">40</text>
<text transform="translate(191.70 302.87) rotate(0.2)" font-size="3.5" text-anchor="end" fill="#000" stroke="#000" stroke-width="0.13">60</text>
<text transform="translate(194.00 370.00) rotate(0.2)" font-size="3.5" text-anchor="middle" fill="#000" stroke="#000" stroke-width="0.13">0</text>
<text transform="translate(234.80 370.00) rotate(0.2)" font-size="3.5" text-anchor="middle" fill="#000" stroke="#000" stroke-width="0.13">10</text>
<text transform="translate(275.60 370.00) rotate(0.2)" font-size="3.5" text-anchor="middle" fill="#000" stroke="#000" stroke-width="0.13">20</text>
<text transform="translate(316.40 370.00) rotate(0.2)" font-size="3.5" text-anchor="middle" fill="#000" stroke="#000" stroke-width="0.13">30</text>
<text transform="translate(176.90 326.20) rotate(-89.8)" font-size="5" text-anchor="middle" fill="#000" stroke="#000" stroke-width="0.1">Frequency</text>
<text class="ttl" transform="translate(243.90 384.10) rotate(0.1)" font-size="11" font-weight="bold" textLength="26.50" lengthAdjust="spacingAndGlyphs" fill="#000" stroke="#000" stroke-width="0.22">GMP</text>
<text transform="translate(359.30 263.45) rotate(0.2)" font-size="3.5" text-anchor="end" fill="#000" stroke="#000" stroke-width="0.13">Check-5</text>
<text transform="translate(359.30 268.53) rotate(0.2)" font-size="3.5" text-anchor="end" fill="#000" stroke="#000" stroke-width="0.13">Check-4</text>
<text transform="translate(359.30 273.61) rotate(0.2)" font-size="3.5" text-anchor="end" fill="#000" stroke="#000" stroke-width="0.13">Check-3</text>
<text transform="translate(359.30 278.69) rotate(0.2)" font-size="3.5" text-anchor="end" fill="#000" stroke="#000" stroke-width="0.13">Check-2</text>
<text transform="translate(359.30 283.77) rotate(0.2)" font-size="3.5" text-anchor="end" fill="#000" stroke="#000" stroke-width="0.13">Check-1</text>
<text transform="translate(359.10 363.55) rotate(0.2)" font-size="3.5" text-anchor="end" fill="#000" stroke="#000" stroke-width="0.13">0</text>
<text transform="translate(359.10 343.95) rotate(0.2)" font-size="3.5" text-anchor="end" fill="#000" stroke="#000" stroke-width="0.13">20</text>
<text transform="translate(359.10 324.35) rotate(0.2)" font-size="3.5" text-anchor="end" fill="#000" stroke="#000" stroke-width="0.13">40</text>
<text transform="translate(359.10 304.75) rotate(0.2)" font-size="3.5" text-anchor="end" fill="#000" stroke="#000" stroke-width="0.13">60</text>
<text transform="translate(367.80 370.50) rotate(0.2)" font-size="3.5" text-anchor="middle" fill="#000" stroke="#000" stroke-width="0.13">0</text>
<text transform="translate(415.20 370.50) rotate(0.2)" font-size="3.5" text-anchor="middle" fill="#000" stroke="#000" stroke-width="0.13">10</text>
<text transform="translate(462.60 370.50) rotate(0.2)" font-size="3.5" text-anchor="middle" fill="#000" stroke="#000" stroke-width="0.13">20</text>
<text transform="translate(343.80 326.50) rotate(-89.8)" font-size="5" text-anchor="middle" fill="#000" stroke="#000" stroke-width="0.1">Frequency</text>
<text class="ttl" transform="translate(417.40 384.10) rotate(0.1)" font-size="11" font-weight="bold" textLength="19.30" lengthAdjust="spacingAndGlyphs" fill="#000" stroke="#000" stroke-width="0.22">HM</text>
<text transform="translate(530.40 263.45) rotate(0.2)" font-size="3.5" text-anchor="end" fill="#000" stroke="#000" stroke-width="0.13">Check-5</text>
<text transform="translate(530.40 268.53) rotate(0.2)" font-size="3.5" text-anchor="end" fill="#000" stroke="#000" stroke-width="0.13">Check-4</text>
<text transform="translate(530.40 273.61) rotate(0.2)" font-size="3.5" text-anchor="end" fill="#000" stroke="#000" stroke-width="0.13">Check-3</text>
<text transform="translate(530.40 278.69) rotate(0.2)" font-size="3.5" text-anchor="end" fill="#000" stroke="#000" stroke-width="0.13">Check-2</text>
<text transform="translate(530.40 283.77) rotate(0.2)" font-size="3.5" text-anchor="end" fill="#000" stroke="#000" stroke-width="0.13">Check-1</text>
<text transform="translate(530.20 362.75) rotate(0.2)" font-size="3.5" text-anchor="end" fill="#000" stroke="#000" stroke-width="0.13">0</text>
<text transform="translate(530.20 336.35) rotate(0.2)" font-size="3.5" text-anchor="end" fill="#000" stroke="#000" stroke-width="0.13">20</text>
<text transform="translate(530.20 309.95) rotate(0.2)" font-size="3.5" text-anchor="end" fill="#000" stroke="#000" stroke-width="0.13">40</text>
<text transform="translate(541.50 370.50) rotate(0.2)" font-size="3.5" text-anchor="middle" fill="#000" stroke="#000" stroke-width="0.13">1</text>
<text transform="translate(575.00 370.50) rotate(0.2)" font-size="3.5" text-anchor="middle" fill="#000" stroke="#000" stroke-width="0.13">2</text>
<text transform="translate(608.50 370.50) rotate(0.2)" font-size="3.5" text-anchor="middle" fill="#000" stroke="#000" stroke-width="0.13">3</text>
<text transform="translate(642.00 370.50) rotate(0.2)" font-size="3.5" text-anchor="middle" fill="#000" stroke="#000" stroke-width="0.13">4</text>
<text transform="translate(675.50 370.50) rotate(0.2)" font-size="3.5" text-anchor="middle" fill="#000" stroke="#000" stroke-width="0.13">5</text>
<text transform="translate(513.80 326.00) rotate(-89.8)" font-size="5" text-anchor="middle" fill="#000" stroke="#000" stroke-width="0.1">Frequency</text>
<text class="ttl" transform="translate(598.10 384.10) rotate(0.1)" font-size="11" font-weight="bold" textLength="25.60" lengthAdjust="spacingAndGlyphs" fill="#000" stroke="#000" stroke-width="0.22">MRP</text>
<text transform="translate(276.30 395.05) rotate(0.2)" font-size="3.8" text-anchor="end" fill="#000" stroke="#000" stroke-width="0.13">Check-5</text>
<text transform="translate(276.30 400.10) rotate(0.2)" font-size="3.8" text-anchor="end" fill="#000" stroke="#000" stroke-width="0.13">Check-4</text>
<text transform="translate(276.30 405.15) rotate(0.2)" font-size="3.8" text-anchor="end" fill="#000" stroke="#000" stroke-width="0.13">Check-3</text>
<text transform="translate(276.30 410.20) rotate(0.2)" font-size="3.8" text-anchor="end" fill="#000" stroke="#000" stroke-width="0.13">Check-2</text>
<text transform="translate(276.30 415.25) rotate(0.2)" font-size="3.8" text-anchor="end" fill="#000" stroke="#000" stroke-width="0.13">Check-1</text>
<text transform="translate(276.10 495.45) rotate(0.2)" font-size="3.8" text-anchor="end" fill="#000" stroke="#000" stroke-width="0.13">0</text>
<text transform="translate(276.10 474.15) rotate(0.2)" font-size="3.8" text-anchor="end" fill="#000" stroke="#000" stroke-width="0.13">10</text>
<text transform="translate(276.10 452.85) rotate(0.2)" font-size="3.8" text-anchor="end" fill="#000" stroke="#000" stroke-width="0.13">20</text>
<text transform="translate(276.10 431.55) rotate(0.2)" font-size="3.8" text-anchor="end" fill="#000" stroke="#000" stroke-width="0.13">30</text>
<text transform="translate(280.30 502.70) rotate(0.2)" font-size="3.8" text-anchor="middle" fill="#000" stroke="#000" stroke-width="0.13">40</text>
<text transform="translate(326.04 502.70) rotate(0.2)" font-size="3.8" text-anchor="middle" fill="#000" stroke="#000" stroke-width="0.13">60</text>
<text transform="translate(371.78 502.70) rotate(0.2)" font-size="3.8" text-anchor="middle" fill="#000" stroke="#000" stroke-width="0.13">80</text>
<text transform="translate(417.52 502.70) rotate(0.2)" font-size="3.8" text-anchor="middle" fill="#000" stroke="#000" stroke-width="0.13">100</text>
<text transform="translate(259.90 458.00) rotate(-89.8)" font-size="5" text-anchor="middle" fill="#000" stroke="#000" stroke-width="0.1">Frequency</text>
<text class="ttl" transform="translate(343.50 519.40) rotate(0.1)" font-size="11" font-weight="bold" textLength="20.80" lengthAdjust="spacingAndGlyphs" fill="#000" stroke="#000" stroke-width="0.22">PYR</text>
</g>
</svg>
</body></html>
